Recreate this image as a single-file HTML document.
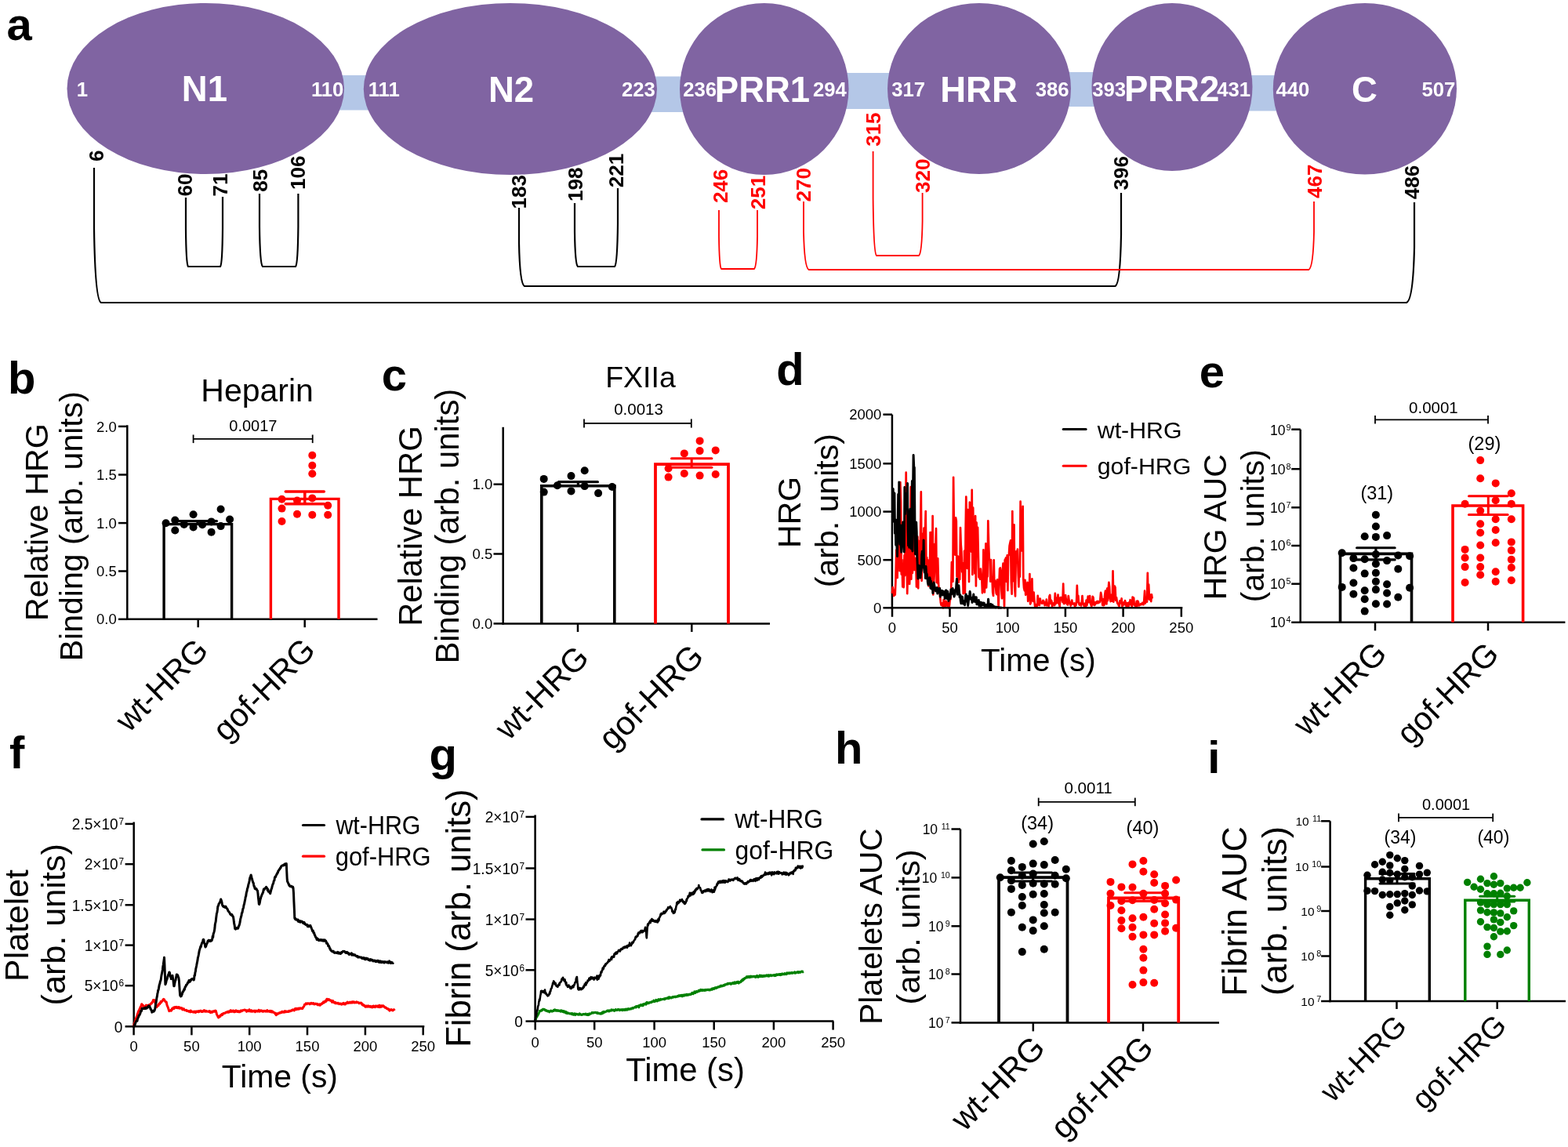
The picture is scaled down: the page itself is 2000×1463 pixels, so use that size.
<!DOCTYPE html>
<html><head><meta charset="utf-8"><title>HRG figure</title>
<style>html,body{margin:0;padding:0;background:#fff;} svg{display:block;} text{font-family:'Liberation Sans', Arial, Helvetica, sans-serif;}</style>
</head><body>
<svg width="2000" height="1463" viewBox="0 0 2000 1463">
<rect width="2000" height="1463" fill="#fff"/>
<text x="8.4" y="50.8" font-size="58" font-weight="bold">a</text>
<rect x="420" y="96" width="60" height="44.5" fill="#B4C7E7"/>
<rect x="825" y="97.5" width="55" height="45.5" fill="#B4C7E7"/>
<rect x="1070" y="93" width="75" height="46" fill="#B4C7E7"/>
<rect x="1355" y="92" width="50" height="44" fill="#B4C7E7"/>
<rect x="1585" y="96" width="50" height="45.5" fill="#B4C7E7"/>
<ellipse cx="262.25" cy="113" rx="176.75" ry="109" fill="#8064A2"/>
<ellipse cx="650.9" cy="113.5" rx="187.1" ry="109.5" fill="#8064A2"/>
<ellipse cx="974.75" cy="113.5" rx="107.75" ry="109.5" fill="#8064A2"/>
<ellipse cx="1249" cy="113" rx="117" ry="109" fill="#8064A2"/>
<ellipse cx="1495" cy="111" rx="102.5" ry="107" fill="#8064A2"/>
<ellipse cx="1740.9" cy="113.25" rx="117.1" ry="109.25" fill="#8064A2"/>
<text x="231.8" y="129.2" font-size="45.5" font-weight="bold" fill="#fff">N1</text>
<text x="623.0" y="130.2" font-size="45.5" font-weight="bold" fill="#fff">N2</text>
<text x="911.8" y="130.1" font-size="45.5" font-weight="bold" fill="#fff">PRR1</text>
<text x="1199.2" y="129.5" font-size="45.5" font-weight="bold" fill="#fff">HRR</text>
<text x="1433.9" y="128.8" font-size="45.5" font-weight="bold" fill="#fff">PRR2</text>
<text x="1724.0" y="130.0" font-size="45.5" font-weight="bold" fill="#fff">C</text>
<text x="97.8" y="122.7" font-size="25.7" font-weight="bold" fill="#fff">1</text>
<text x="396.9" y="122.7" font-size="25.7" font-weight="bold" fill="#fff">110</text>
<text x="469.7" y="122.7" font-size="25.7" font-weight="bold" fill="#fff">111</text>
<text x="793.0" y="122.7" font-size="25.7" font-weight="bold" fill="#fff">223</text>
<text x="871.2" y="122.7" font-size="25.7" font-weight="bold" fill="#fff">236</text>
<text x="1037.0" y="122.7" font-size="25.7" font-weight="bold" fill="#fff">294</text>
<text x="1137.3" y="122.7" font-size="25.7" font-weight="bold" fill="#fff">317</text>
<text x="1320.7" y="122.7" font-size="25.7" font-weight="bold" fill="#fff">386</text>
<text x="1393.2" y="122.7" font-size="25.7" font-weight="bold" fill="#fff">393</text>
<text x="1552.2" y="122.7" font-size="25.7" font-weight="bold" fill="#fff">431</text>
<text x="1627.5" y="122.7" font-size="25.7" font-weight="bold" fill="#fff">440</text>
<text x="1813.5" y="122.7" font-size="25.7" font-weight="bold" fill="#fff">507</text>
<text transform="translate(132.3,206.1) rotate(-90)" font-size="26" font-weight="bold">6</text>
<text transform="translate(245.1,250.4) rotate(-90)" font-size="26" font-weight="bold">60</text>
<text transform="translate(290.1,250.5) rotate(-90)" font-size="26" font-weight="bold">71</text>
<text transform="translate(340.6,244.7) rotate(-90)" font-size="26" font-weight="bold">85</text>
<text transform="translate(389.1,241.9) rotate(-90)" font-size="26" font-weight="bold">106</text>
<text transform="translate(671.3,266.4) rotate(-90)" font-size="26" font-weight="bold">183</text>
<text transform="translate(742.6,257.0) rotate(-90)" font-size="26" font-weight="bold">198</text>
<text transform="translate(794.8,239.2) rotate(-90)" font-size="26" font-weight="bold">221</text>
<text transform="translate(927.6,259.1) rotate(-90)" font-size="26" font-weight="bold" fill="#FF0000">246</text>
<text transform="translate(975.6,267.2) rotate(-90)" font-size="26" font-weight="bold" fill="#FF0000">251</text>
<text transform="translate(1034.2,257.4) rotate(-90)" font-size="26" font-weight="bold" fill="#FF0000">270</text>
<text transform="translate(1122.5,186.8) rotate(-90)" font-size="26" font-weight="bold" fill="#FF0000">315</text>
<text transform="translate(1185.8,245.9) rotate(-90)" font-size="26" font-weight="bold" fill="#FF0000">320</text>
<text transform="translate(1438.5,242.4) rotate(-90)" font-size="26" font-weight="bold">396</text>
<text transform="translate(1685.6,252.9) rotate(-90)" font-size="26" font-weight="bold" fill="#FF0000">467</text>
<text transform="translate(1809.6,254.2) rotate(-90)" font-size="26" font-weight="bold">486</text>
<path d="M120,214 L120,291.4 Q121.3,383.0 129,386 L1794,386 Q1802.5,383.0 1804,315.6 L1804,258" fill="none" stroke="#000" stroke-width="2.2" stroke-linejoin="round"/>
<path d="M237,252 L237,291.6 Q237.4,337.0 240,340 L281,340 Q283.6,337.0 284,291.1 L284,251" fill="none" stroke="#000" stroke-width="2.2" stroke-linejoin="round"/>
<path d="M331,247 L331,288.9 Q331.6,337.0 335,340 L377,340 Q379.9,337.0 380.4,288.9 L380.4,247" fill="none" stroke="#000" stroke-width="2.2" stroke-linejoin="round"/>
<path d="M662,265 L662,310.0 Q663.0,362.0 669,365 L1422.6,365 Q1428.9,362.0 1430,299.6 L1430,246" fill="none" stroke="#000" stroke-width="2.2" stroke-linejoin="round"/>
<path d="M733,259 L733,295.4 Q733.6,337.0 737,340 L784,340 Q787.4,337.0 788,285.0 L788,240" fill="none" stroke="#000" stroke-width="2.2" stroke-linejoin="round"/>
<path d="M917,268 L917,301.8 Q917.5,340.0 920,343 L962,343 Q965.4,340.0 966,301.8 L966,268" fill="none" stroke="#FF0000" stroke-width="1.8" stroke-linejoin="round"/>
<path d="M1025,257 L1025,296.1 Q1026.0,341.0 1031.5,344 L1669.4,344 Q1675.0,341.0 1676,296.1 L1676,257" fill="none" stroke="#FF0000" stroke-width="1.8" stroke-linejoin="round"/>
<path d="M1113.6,193 L1113.6,252.8 Q1114.3,323.0 1118,326 L1172,326 Q1175.9,323.0 1176.6,282.0 L1176.6,246" fill="none" stroke="#FF0000" stroke-width="1.8" stroke-linejoin="round"/>
<text x="10.0" y="501.9" font-size="58" font-weight="bold">b</text>
<text x="256.3" y="511.8" font-size="41">Heparin</text>
<text transform="translate(60.6,666.2) rotate(-90)" font-size="41.2" text-anchor="middle">Relative HRG</text>
<text transform="translate(104.5,671.2) rotate(-90)" font-size="41.0" text-anchor="middle">Binding (arb. units)</text>
<line x1="162.3" y1="542.3" x2="162.3" y2="791.0" stroke="#000" stroke-width="2.5" stroke-linecap="butt"/>
<line x1="151.0" y1="543.9" x2="162.3" y2="543.9" stroke="#000" stroke-width="2.5" stroke-linecap="butt"/>
<text x="148.7" y="550.5" font-size="18.5" text-anchor="end">2.0</text>
<line x1="151.0" y1="605.5" x2="162.3" y2="605.5" stroke="#000" stroke-width="2.5" stroke-linecap="butt"/>
<text x="148.7" y="612.1" font-size="18.5" text-anchor="end">1.5</text>
<line x1="151.0" y1="667.1" x2="162.3" y2="667.1" stroke="#000" stroke-width="2.5" stroke-linecap="butt"/>
<text x="148.7" y="673.7" font-size="18.5" text-anchor="end">1.0</text>
<line x1="151.0" y1="728.5" x2="162.3" y2="728.5" stroke="#000" stroke-width="2.5" stroke-linecap="butt"/>
<text x="148.7" y="735.1" font-size="18.5" text-anchor="end">0.5</text>
<line x1="151.0" y1="789.8" x2="162.3" y2="789.8" stroke="#000" stroke-width="2.5" stroke-linecap="butt"/>
<text x="148.7" y="796.4" font-size="18.5" text-anchor="end">0.0</text>
<line x1="161.1" y1="789.8" x2="481.5" y2="789.8" stroke="#000" stroke-width="2.5" stroke-linecap="butt"/>
<line x1="252.7" y1="789.8" x2="252.7" y2="800.2" stroke="#000" stroke-width="2.5" stroke-linecap="butt"/>
<line x1="388.7" y1="789.8" x2="388.7" y2="800.2" stroke="#000" stroke-width="2.5" stroke-linecap="butt"/>
<path d="M209.1,789.8 L209.1,668.6 L295.6,668.6 L295.6,789.8" fill="none" stroke="#000" stroke-width="3.4" stroke-linejoin="miter"/>
<path d="M345.4,789.8 L345.4,636.4 L432,636.4 L432,789.8" fill="none" stroke="#FF0000" stroke-width="3.4" stroke-linejoin="miter"/>
<g fill="#000"><circle cx="211.6" cy="667.3" r="5"/><circle cx="223.3" cy="663.5" r="5"/><circle cx="223.3" cy="676.5" r="5"/><circle cx="234.8" cy="668.9" r="5"/><circle cx="246.6" cy="656.2" r="5"/><circle cx="246.6" cy="672.5" r="5"/><circle cx="258.1" cy="669.2" r="5"/><circle cx="269.6" cy="665.4" r="5"/><circle cx="269.6" cy="678.8" r="5"/><circle cx="281.6" cy="649.5" r="5"/><circle cx="281.6" cy="671.1" r="5"/><circle cx="293.1" cy="662.5" r="5"/></g>
<line x1="227.8" y1="664.6" x2="276.4" y2="664.6" stroke="#000" stroke-width="3.4" stroke-linecap="round"/>
<line x1="252.1" y1="664.6" x2="252.1" y2="668.6" stroke="#000" stroke-width="3.4" stroke-linecap="butt"/>
<g fill="#FF0000"><circle cx="398.3" cy="580.8" r="5"/><circle cx="398.3" cy="593.7" r="5"/><circle cx="398.3" cy="604.2" r="5"/><circle cx="359.5" cy="636.7" r="5"/><circle cx="359.5" cy="648.6" r="5"/><circle cx="359.5" cy="665.0" r="5"/><circle cx="379.0" cy="638.6" r="5"/><circle cx="379.0" cy="655.8" r="5"/><circle cx="398.3" cy="635.4" r="5"/><circle cx="398.3" cy="656.8" r="5"/><circle cx="418.2" cy="644.7" r="5"/><circle cx="418.2" cy="656.8" r="5"/></g>
<line x1="364.3" y1="627.0" x2="413.3" y2="627.0" stroke="#FF0000" stroke-width="3.6" stroke-linecap="round"/>
<line x1="364.3" y1="642.8" x2="413.3" y2="642.8" stroke="#FF0000" stroke-width="3.6" stroke-linecap="round"/>
<line x1="388.8" y1="627.0" x2="388.8" y2="642.8" stroke="#FF0000" stroke-width="3.6" stroke-linecap="butt"/>
<line x1="246.6" y1="559.8" x2="398.7" y2="559.8" stroke="#000" stroke-width="1.8" stroke-linecap="butt"/>
<line x1="246.6" y1="554.5" x2="246.6" y2="565.1" stroke="#000" stroke-width="1.8" stroke-linecap="butt"/>
<line x1="398.7" y1="554.5" x2="398.7" y2="565.1" stroke="#000" stroke-width="1.8" stroke-linecap="butt"/>
<text x="322.9" y="549.7" font-size="20" text-anchor="middle">0.0017</text>
<text transform="translate(268.0,831.8) rotate(-45)" font-size="41.2" text-anchor="end">wt-HRG</text>
<text transform="translate(404.5,831.4) rotate(-45)" font-size="41.6" text-anchor="end">gof-HRG</text>
<text x="486.8" y="497.5" font-size="58" font-weight="bold">c</text>
<text x="772.2" y="493.5" font-size="37.5">FXIIa</text>
<text transform="translate(538.2,671.1) rotate(-90)" font-size="41.8" text-anchor="middle">Relative HRG</text>
<text transform="translate(585.0,671.2) rotate(-90)" font-size="41.8" text-anchor="middle">Binding (arb. units)</text>
<line x1="641.7" y1="544.8" x2="641.7" y2="796.6" stroke="#000" stroke-width="2.5" stroke-linecap="butt"/>
<line x1="629.5" y1="617.7" x2="641.7" y2="617.7" stroke="#000" stroke-width="2.5" stroke-linecap="butt"/>
<text x="628.2" y="624.3" font-size="18.5" text-anchor="end">1.0</text>
<line x1="629.5" y1="706.5" x2="641.7" y2="706.5" stroke="#000" stroke-width="2.5" stroke-linecap="butt"/>
<text x="628.2" y="713.1" font-size="18.5" text-anchor="end">0.5</text>
<line x1="629.5" y1="795.4" x2="641.7" y2="795.4" stroke="#000" stroke-width="2.5" stroke-linecap="butt"/>
<text x="628.2" y="802.0" font-size="18.5" text-anchor="end">0.0</text>
<line x1="640.5" y1="795.4" x2="982.0" y2="795.4" stroke="#000" stroke-width="2.5" stroke-linecap="butt"/>
<line x1="737.0" y1="795.4" x2="737.0" y2="806.0" stroke="#000" stroke-width="2.5" stroke-linecap="butt"/>
<line x1="882.3" y1="795.4" x2="882.3" y2="806.0" stroke="#000" stroke-width="2.5" stroke-linecap="butt"/>
<path d="M690.8,795.4 L690.8,619.8 L783.8,619.8 L783.8,795.4" fill="none" stroke="#000" stroke-width="3.6" stroke-linejoin="miter"/>
<path d="M836,795.4 L836,592.2 L929,592.2 L929,795.4" fill="none" stroke="#FF0000" stroke-width="3.8" stroke-linejoin="miter"/>
<g fill="#000"><circle cx="693.7" cy="610.9" r="5"/><circle cx="728.5" cy="607.1" r="5"/><circle cx="745.7" cy="600.3" r="5"/><circle cx="710.9" cy="619.2" r="5"/><circle cx="745.7" cy="620.1" r="5"/><circle cx="780.8" cy="621.0" r="5"/><circle cx="693.7" cy="627.6" r="5"/><circle cx="728.5" cy="626.4" r="5"/><circle cx="763.1" cy="629.1" r="5"/></g>
<line x1="712.4" y1="614.7" x2="762.4" y2="614.7" stroke="#000" stroke-width="3.2" stroke-linecap="round"/>
<line x1="737.4" y1="614.7" x2="737.4" y2="619.8" stroke="#000" stroke-width="3.2" stroke-linecap="butt"/>
<g fill="#FF0000"><circle cx="892.6" cy="562.4" r="5"/><circle cx="892.6" cy="575.1" r="5"/><circle cx="912.7" cy="574.4" r="5"/><circle cx="872.8" cy="578.4" r="5"/><circle cx="852.6" cy="597.5" r="5"/><circle cx="852.6" cy="608.6" r="5"/><circle cx="872.8" cy="604.0" r="5"/><circle cx="892.6" cy="606.6" r="5"/><circle cx="912.7" cy="605.0" r="5"/></g>
<line x1="856.5" y1="584.8" x2="907.9" y2="584.8" stroke="#FF0000" stroke-width="3" stroke-linecap="round"/>
<line x1="856.5" y1="596.2" x2="907.9" y2="596.2" stroke="#FF0000" stroke-width="3" stroke-linecap="round"/>
<line x1="882.2" y1="584.8" x2="882.2" y2="596.2" stroke="#FF0000" stroke-width="3" stroke-linecap="butt"/>
<line x1="745.0" y1="540.0" x2="881.8" y2="540.0" stroke="#000" stroke-width="1.8" stroke-linecap="butt"/>
<line x1="745.0" y1="534.4" x2="745.0" y2="545.6" stroke="#000" stroke-width="1.8" stroke-linecap="butt"/>
<line x1="881.8" y1="534.4" x2="881.8" y2="545.6" stroke="#000" stroke-width="1.8" stroke-linecap="butt"/>
<text x="814.5" y="529.3" font-size="20.5" text-anchor="middle">0.0013</text>
<text transform="translate(753.4,841.0) rotate(-45)" font-size="41.6" text-anchor="end">wt-HRG</text>
<text transform="translate(899.9,839.8) rotate(-45)" font-size="42.6" text-anchor="end">gof-HRG</text>
<text x="990.3" y="490.9" font-size="58" font-weight="bold">d</text>
<text transform="translate(1020.5,653.4) rotate(-90)" font-size="41" text-anchor="middle">HRG</text>
<text transform="translate(1068.9,651.2) rotate(-90)" font-size="41.0" text-anchor="middle">(arb. units)</text>
<line x1="1137.9" y1="528.7" x2="1137.9" y2="776.5" stroke="#000" stroke-width="2.5" stroke-linecap="butt"/>
<line x1="1126.4" y1="528.7" x2="1137.9" y2="528.7" stroke="#000" stroke-width="2.5" stroke-linecap="butt"/>
<text x="1124.4" y="535.3" font-size="18.5" text-anchor="end">2000</text>
<line x1="1126.4" y1="591.3" x2="1137.9" y2="591.3" stroke="#000" stroke-width="2.5" stroke-linecap="butt"/>
<text x="1124.4" y="597.9" font-size="18.5" text-anchor="end">1500</text>
<line x1="1126.4" y1="652.6" x2="1137.9" y2="652.6" stroke="#000" stroke-width="2.5" stroke-linecap="butt"/>
<text x="1124.4" y="659.2" font-size="18.5" text-anchor="end">1000</text>
<line x1="1126.4" y1="714.2" x2="1137.9" y2="714.2" stroke="#000" stroke-width="2.5" stroke-linecap="butt"/>
<text x="1124.4" y="720.8" font-size="18.5" text-anchor="end">500</text>
<line x1="1126.4" y1="775.3" x2="1137.9" y2="775.3" stroke="#000" stroke-width="2.5" stroke-linecap="butt"/>
<text x="1124.4" y="781.9" font-size="18.5" text-anchor="end">0</text>
<path d="M1138.0,756.8 L1138.7,749.2 L1139.5,753.8 L1140.2,760.0 L1140.9,754.8 L1141.7,758.7 L1142.4,742.0 L1143.2,701.6 L1143.9,731.0 L1144.6,737.0 L1145.4,692.8 L1146.1,679.4 L1146.8,684.8 L1147.6,728.2 L1148.3,615.0 L1149.1,639.7 L1149.8,732.6 L1150.5,714.2 L1151.3,748.5 L1152.0,740.8 L1152.7,749.2 L1153.5,708.3 L1154.2,734.1 L1155.0,677.2 L1155.7,602.7 L1156.4,689.7 L1157.2,757.1 L1157.9,729.5 L1158.6,702.1 L1159.4,688.7 L1160.1,744.9 L1160.8,728.5 L1161.6,621.2 L1162.3,738.7 L1163.1,666.2 L1163.8,730.9 L1164.5,716.3 L1165.3,671.7 L1166.0,727.0 L1166.7,720.8 L1167.5,712.1 L1168.2,713.1 L1169.0,748.5 L1169.7,724.3 L1170.4,684.7 L1171.2,750.3 L1171.9,690.2 L1172.6,706.3 L1173.4,733.9 L1174.1,675.4 L1174.8,627.3 L1175.6,740.8 L1176.3,714.8 L1177.1,680.6 L1177.8,710.8 L1178.5,673.7 L1179.3,707.5 L1180.0,677.3 L1180.7,652.0 L1181.5,727.1 L1182.2,711.0 L1183.0,730.5 L1183.7,714.6 L1184.4,747.4 L1185.2,740.1 L1185.9,728.2 L1186.6,679.1 L1187.4,679.1 L1188.1,745.2 L1188.9,744.2 L1189.6,658.2 L1190.3,758.5 L1191.1,743.6 L1191.8,731.6 L1192.5,693.9 L1193.3,697.6 L1194.0,674.2 L1194.7,742.8 L1195.5,743.3 L1196.2,712.4 L1197.0,743.7 L1197.7,752.8 L1198.4,750.1 L1199.2,761.7 L1199.9,768.8 L1200.6,771.9 L1201.4,769.5 L1202.1,770.6 L1202.9,775.3 L1203.6,765.1 L1204.3,769.2 L1205.1,767.1 L1205.8,774.7 L1206.5,766.5 L1207.3,770.4 L1208.0,769.3 L1208.8,773.5 L1209.5,767.6 L1210.2,775.3 L1211.0,772.2 L1211.7,764.5 L1212.4,764.5 L1213.2,751.4 L1213.9,717.0 L1214.6,741.5 L1215.4,741.8 L1216.1,608.8 L1216.9,677.4 L1217.6,698.9 L1218.3,707.7 L1219.1,660.4 L1219.8,664.4 L1220.5,735.4 L1221.3,717.2 L1222.0,709.7 L1222.8,742.7 L1223.5,711.7 L1224.2,739.0 L1225.0,673.1 L1225.7,695.2 L1226.4,703.6 L1227.2,729.4 L1227.9,718.1 L1228.7,757.1 L1229.4,749.9 L1230.1,702.7 L1230.9,756.5 L1231.6,677.4 L1232.3,633.5 L1233.1,671.3 L1233.8,725.0 L1234.5,650.0 L1235.3,673.7 L1236.0,742.1 L1236.8,640.7 L1237.5,641.9 L1238.2,677.0 L1239.0,703.7 L1239.7,624.9 L1240.4,733.0 L1241.2,647.7 L1241.9,713.4 L1242.7,705.1 L1243.4,731.5 L1244.1,658.2 L1244.9,747.4 L1245.6,666.5 L1246.3,708.1 L1247.1,672.8 L1247.8,705.3 L1248.5,736.3 L1249.3,732.5 L1250.0,738.7 L1250.8,725.7 L1251.5,735.2 L1252.2,736.1 L1253.0,756.3 L1253.7,752.3 L1254.4,701.3 L1255.2,742.0 L1255.9,755.5 L1256.7,726.8 L1257.4,693.3 L1258.1,749.5 L1258.9,731.0 L1259.6,735.3 L1260.3,664.3 L1261.1,694.7 L1261.8,712.6 L1262.6,714.9 L1263.3,741.6 L1264.0,714.0 L1264.8,740.8 L1265.5,737.4 L1266.2,755.5 L1267.0,760.0 L1267.7,714.3 L1268.4,748.0 L1269.2,740.3 L1269.9,747.6 L1270.7,756.7 L1271.4,758.0 L1272.1,739.4 L1272.9,752.0 L1273.6,775.3 L1274.3,747.8 L1275.1,725.4 L1275.8,724.4 L1276.6,732.9 L1277.3,752.6 L1278.0,763.2 L1278.8,727.0 L1279.5,718.7 L1280.2,739.8 L1281.0,775.3 L1281.7,714.3 L1282.5,712.8 L1283.2,711.3 L1283.9,741.9 L1284.7,708.3 L1285.4,753.1 L1286.1,709.3 L1286.9,707.6 L1287.6,696.3 L1288.3,692.8 L1289.1,689.3 L1289.8,741.7 L1290.6,757.7 L1291.3,652.0 L1292.0,741.1 L1292.8,718.8 L1293.5,669.3 L1294.2,749.2 L1295.0,760.4 L1295.7,714.1 L1296.5,703.2 L1297.2,712.3 L1297.9,700.5 L1298.7,730.9 L1299.4,748.5 L1300.1,717.2 L1300.9,735.6 L1301.6,639.7 L1302.4,692.7 L1303.1,702.5 L1303.8,681.2 L1304.6,645.8 L1305.3,738.6 L1306.0,749.7 L1306.8,753.3 L1307.5,739.8 L1308.2,758.8 L1309.0,754.3 L1309.7,752.9 L1310.5,742.9 L1311.2,766.8 L1311.9,752.3 L1312.7,761.0 L1313.4,732.1 L1314.1,770.5 L1314.9,768.4 L1315.6,759.5 L1316.4,738.3 L1317.1,764.4 L1317.8,766.9 L1318.6,755.7 L1319.3,764.6 L1320.0,773.0 L1320.8,771.0 L1321.5,773.2 L1322.2,774.5 L1323.0,771.7 L1323.7,759.8 L1324.5,766.4 L1325.2,771.8 L1325.9,772.0 L1326.7,763.5 L1327.4,767.4 L1328.1,768.7 L1328.9,769.6 L1329.6,769.6 L1330.4,765.9 L1331.1,766.4 L1331.8,768.2 L1332.6,772.2 L1333.3,768.3 L1334.0,771.4 L1334.8,764.6 L1335.5,772.4 L1336.3,770.6 L1337.0,769.7 L1337.7,772.8 L1338.5,760.3 L1339.2,759.0 L1339.9,769.7 L1340.7,765.6 L1341.4,766.8 L1342.1,774.1 L1342.9,770.1 L1343.6,769.6 L1344.4,768.9 L1345.1,772.2 L1345.8,756.8 L1346.6,770.1 L1347.3,762.6 L1348.0,766.5 L1348.8,768.7 L1349.5,758.7 L1350.3,770.0 L1351.0,770.6 L1351.7,773.5 L1352.5,762.1 L1353.2,762.0 L1353.9,762.4 L1354.7,764.4 L1355.4,767.9 L1356.2,744.5 L1356.9,769.9 L1357.6,770.0 L1358.4,769.1 L1359.1,759.1 L1359.8,764.7 L1360.6,768.7 L1361.3,771.0 L1362.0,771.5 L1362.8,760.1 L1363.5,765.4 L1364.3,768.4 L1365.0,770.4 L1365.7,772.5 L1366.5,770.5 L1367.2,765.5 L1367.9,770.3 L1368.7,770.5 L1369.4,770.5 L1370.2,769.4 L1370.9,773.2 L1371.6,771.3 L1372.4,772.3 L1373.1,766.6 L1373.8,746.9 L1374.6,767.9 L1375.3,759.9 L1376.1,769.8 L1376.8,771.6 L1377.5,769.7 L1378.3,769.9 L1379.0,772.5 L1379.7,769.0 L1380.5,760.0 L1381.2,769.5 L1381.9,770.6 L1382.7,772.7 L1383.4,769.8 L1384.2,773.0 L1384.9,773.2 L1385.6,765.7 L1386.4,772.1 L1387.1,766.2 L1387.8,760.5 L1388.6,768.1 L1389.3,767.5 L1390.1,760.1 L1390.8,769.2 L1391.5,771.5 L1392.3,773.1 L1393.0,770.5 L1393.7,760.9 L1394.5,762.2 L1395.2,771.4 L1396.0,772.0 L1396.7,771.3 L1397.4,768.2 L1398.2,769.5 L1398.9,767.8 L1399.6,766.9 L1400.4,769.3 L1401.1,768.6 L1401.8,767.2 L1402.6,768.2 L1403.3,765.2 L1404.1,755.9 L1404.8,759.1 L1405.5,764.4 L1406.3,771.8 L1407.0,764.4 L1407.7,772.1 L1408.5,771.6 L1409.2,758.4 L1410.0,753.7 L1410.7,761.6 L1411.4,770.5 L1412.2,750.6 L1412.9,766.2 L1413.6,753.6 L1414.4,742.9 L1415.1,748.5 L1415.8,763.4 L1416.6,767.2 L1417.3,759.7 L1418.1,758.4 L1418.8,766.7 L1419.5,728.4 L1420.3,767.7 L1421.0,749.4 L1421.7,747.6 L1422.5,749.4 L1423.2,765.6 L1424.0,762.0 L1424.7,766.9 L1425.4,769.6 L1426.2,769.8 L1426.9,772.4 L1427.6,773.0 L1428.4,766.4 L1429.1,769.2 L1429.9,768.2 L1430.6,763.4 L1431.3,773.1 L1432.1,772.4 L1432.8,769.9 L1433.5,768.4 L1434.3,771.0 L1435.0,766.0 L1435.7,769.1 L1436.5,773.1 L1437.2,773.2 L1438.0,769.2 L1438.7,769.4 L1439.4,774.1 L1440.2,768.3 L1440.9,769.0 L1441.6,765.2 L1442.4,771.5 L1443.1,772.0 L1443.9,773.4 L1444.6,761.5 L1445.3,770.1 L1446.1,762.6 L1446.8,771.6 L1447.5,770.4 L1448.3,773.7 L1449.0,772.2 L1449.8,766.9 L1450.5,772.8 L1451.2,766.5 L1452.0,768.1 L1452.7,772.4 L1453.4,771.8 L1454.2,771.6 L1454.9,770.3 L1455.6,770.7 L1456.4,771.1 L1457.1,769.0 L1457.9,770.5 L1458.6,771.2 L1459.3,765.8 L1460.1,753.7 L1460.8,769.5 L1461.5,762.7 L1462.3,765.1 L1463.0,767.6 L1463.8,730.9 L1464.5,763.5 L1465.2,745.7 L1466.0,764.7 L1466.7,758.3 L1467.4,762.9 L1468.2,767.1 L1468.9,758.3 L1469.7,763.5" fill="none" stroke="#FF0000" stroke-width="2.7" stroke-linejoin="round"/>
<path d="M1138.0,658.2 L1138.6,659.4 L1139.2,623.6 L1139.8,665.2 L1140.4,657.8 L1140.9,628.9 L1141.5,680.3 L1142.1,669.4 L1142.7,695.2 L1143.3,663.3 L1143.9,697.5 L1144.5,709.6 L1145.1,675.4 L1145.7,630.4 L1146.3,689.2 L1146.8,615.0 L1147.4,682.1 L1148.0,694.5 L1148.6,669.7 L1149.2,697.1 L1149.8,704.3 L1150.4,673.8 L1151.0,693.3 L1151.6,666.1 L1152.2,689.7 L1152.7,694.2 L1153.3,703.9 L1153.9,621.4 L1154.5,655.7 L1155.1,642.6 L1155.7,629.8 L1156.3,643.5 L1156.9,648.6 L1157.5,616.6 L1158.0,674.9 L1158.6,695.9 L1159.2,690.7 L1159.8,698.3 L1160.4,655.7 L1161.0,649.2 L1161.6,693.9 L1162.2,699.9 L1162.8,674.1 L1163.4,613.4 L1163.9,703.0 L1164.5,629.0 L1165.1,580.5 L1165.7,595.2 L1166.3,596.5 L1166.9,668.1 L1167.5,706.8 L1168.1,706.5 L1168.7,666.3 L1169.2,678.8 L1169.8,710.2 L1170.4,725.4 L1171.0,738.1 L1171.6,726.2 L1172.2,721.3 L1172.8,722.8 L1173.4,724.8 L1174.0,737.1 L1174.6,730.0 L1175.1,727.7 L1175.7,707.7 L1176.3,703.2 L1176.9,713.6 L1177.5,724.0 L1178.1,689.0 L1178.7,725.0 L1179.3,730.2 L1179.9,724.6 L1180.5,737.6 L1181.0,722.5 L1181.6,731.9 L1182.2,731.9 L1182.8,736.7 L1183.4,742.9 L1184.0,745.9 L1184.6,740.8 L1185.2,743.2 L1185.8,736.7 L1186.3,738.6 L1186.9,750.2 L1187.5,741.2 L1188.1,751.1 L1188.7,747.8 L1189.3,745.2 L1189.9,756.6 L1190.5,745.1 L1191.1,743.0 L1191.7,745.9 L1192.2,748.9 L1192.8,749.5 L1193.4,753.9 L1194.0,750.8 L1194.6,752.7 L1195.2,749.5 L1195.8,757.1 L1196.4,750.7 L1197.0,750.9 L1197.5,753.1 L1198.1,755.4 L1198.7,750.4 L1199.3,761.2 L1199.9,753.1 L1200.5,753.3 L1201.1,753.5 L1201.7,753.5 L1202.3,759.0 L1202.9,758.4 L1203.4,754.3 L1204.0,755.2 L1204.6,756.7 L1205.2,763.6 L1205.8,756.5 L1206.4,752.9 L1207.0,752.9 L1207.6,756.0 L1208.2,763.7 L1208.8,754.4 L1209.3,758.2 L1209.9,766.5 L1210.5,758.1 L1211.1,763.7 L1211.7,763.8 L1212.3,761.3 L1212.9,752.1 L1213.5,758.1 L1214.1,755.6 L1214.6,750.9 L1215.2,750.6 L1215.8,755.0 L1216.4,756.8 L1217.0,761.1 L1217.6,759.3 L1218.2,753.1 L1218.8,751.9 L1219.4,752.9 L1220.0,743.0 L1220.5,738.3 L1221.1,758.2 L1221.7,750.6 L1222.3,751.8 L1222.9,746.8 L1223.5,754.8 L1224.1,761.8 L1224.7,758.6 L1225.3,766.6 L1225.9,769.7 L1226.4,761.0 L1227.0,763.2 L1227.6,761.4 L1228.2,769.9 L1228.8,766.5 L1229.4,767.0 L1230.0,768.1 L1230.6,771.7 L1231.2,767.3 L1231.7,759.3 L1232.3,758.0 L1232.9,767.0 L1233.5,765.2 L1234.1,760.5 L1234.7,772.4 L1235.3,767.5 L1235.9,763.1 L1236.5,761.6 L1237.1,754.6 L1237.6,757.3 L1238.2,763.8 L1238.8,764.7 L1239.4,762.4 L1240.0,768.4 L1240.6,767.5 L1241.2,763.1 L1241.8,758.1 L1242.4,767.1 L1242.9,761.7 L1243.5,767.4 L1244.1,761.8 L1244.7,767.9 L1245.3,761.8 L1245.9,770.8 L1246.5,769.9 L1247.1,769.9 L1247.7,766.9 L1248.3,765.5 L1248.8,772.4 L1249.4,772.2 L1250.0,767.9 L1250.6,771.6 L1251.2,773.1 L1251.8,768.5 L1252.4,769.3 L1253.0,769.6 L1253.6,771.9 L1254.2,769.0 L1254.7,771.7 L1255.3,769.2 L1255.9,772.9 L1256.5,773.2 L1257.1,772.0 L1257.7,773.0 L1258.3,771.3 L1258.9,771.8 L1259.5,773.4 L1260.0,772.6 L1260.6,764.2 L1261.2,771.4 L1261.8,773.4 L1262.4,773.4 L1263.0,771.4 L1263.6,770.5 L1264.2,770.7 L1264.8,772.9 L1265.4,773.2 L1265.9,771.5 L1266.5,773.5 L1267.1,774.3 L1267.7,773.8 L1268.3,773.6 L1268.9,774.4 L1269.5,774.8 L1270.1,774.8 L1270.7,774.1 L1271.2,774.6 L1271.8,774.6 L1272.4,774.5 L1273.0,774.4 L1273.6,774.8 L1274.2,774.7 L1274.8,775.0 L1275.4,775.0 L1276.0,775.1 L1276.6,775.0 L1277.1,775.2 L1277.7,775.3" fill="none" stroke="#000" stroke-width="3.0" stroke-linejoin="round"/>
<line x1="1136.7" y1="775.3" x2="1508.3" y2="775.3" stroke="#000" stroke-width="2.5" stroke-linecap="butt"/>
<line x1="1138.0" y1="775.3" x2="1138.0" y2="786.8" stroke="#000" stroke-width="2.5" stroke-linecap="butt"/>
<text x="1138.0" y="806.8" font-size="18.5" text-anchor="middle">0</text>
<line x1="1211.5" y1="775.3" x2="1211.5" y2="786.8" stroke="#000" stroke-width="2.5" stroke-linecap="butt"/>
<text x="1211.5" y="806.8" font-size="18.5" text-anchor="middle">50</text>
<line x1="1285.2" y1="775.3" x2="1285.2" y2="786.8" stroke="#000" stroke-width="2.5" stroke-linecap="butt"/>
<text x="1285.2" y="806.8" font-size="18.5" text-anchor="middle">100</text>
<line x1="1358.9" y1="775.3" x2="1358.9" y2="786.8" stroke="#000" stroke-width="2.5" stroke-linecap="butt"/>
<text x="1358.9" y="806.8" font-size="18.5" text-anchor="middle">150</text>
<line x1="1432.6" y1="775.3" x2="1432.6" y2="786.8" stroke="#000" stroke-width="2.5" stroke-linecap="butt"/>
<text x="1432.6" y="806.8" font-size="18.5" text-anchor="middle">200</text>
<line x1="1506.8" y1="775.3" x2="1506.8" y2="786.8" stroke="#000" stroke-width="2.5" stroke-linecap="butt"/>
<text x="1506.8" y="806.8" font-size="18.5" text-anchor="middle">250</text>
<text x="1324.4" y="856.4" font-size="40.4" text-anchor="middle">Time (s)</text>
<line x1="1356.2" y1="547.6" x2="1385.1" y2="547.6" stroke="#000" stroke-width="3" stroke-linecap="round"/>
<text x="1399.8" y="558.5" font-size="30.3">wt-HRG</text>
<line x1="1356.2" y1="594.3" x2="1385.1" y2="594.3" stroke="#FF0000" stroke-width="3" stroke-linecap="round"/>
<text x="1399.7" y="604.9" font-size="30.3">gof-HRG</text>
<text x="1529.7" y="493.7" font-size="58" font-weight="bold">e</text>
<text transform="translate(1564.3,672.3) rotate(-90)" font-size="40.8" text-anchor="middle">HRG AUC</text>
<text transform="translate(1611.9,670.7) rotate(-90)" font-size="40.8" text-anchor="middle">(arb. units)</text>
<line x1="1658.7" y1="547.7" x2="1658.7" y2="795.0" stroke="#000" stroke-width="2.5" stroke-linecap="butt"/>
<line x1="1647.2" y1="547.7" x2="1658.7" y2="547.7" stroke="#000" stroke-width="2.5" stroke-linecap="butt"/>
<line x1="1647.2" y1="598.2" x2="1658.7" y2="598.2" stroke="#000" stroke-width="2.5" stroke-linecap="butt"/>
<line x1="1647.2" y1="647.3" x2="1658.7" y2="647.3" stroke="#000" stroke-width="2.5" stroke-linecap="butt"/>
<line x1="1647.2" y1="696.0" x2="1658.7" y2="696.0" stroke="#000" stroke-width="2.5" stroke-linecap="butt"/>
<line x1="1647.2" y1="744.7" x2="1658.7" y2="744.7" stroke="#000" stroke-width="2.5" stroke-linecap="butt"/>
<line x1="1647.2" y1="793.8" x2="1658.7" y2="793.8" stroke="#000" stroke-width="2.5" stroke-linecap="butt"/>
<text x="1646.6" y="554.9" font-size="17.6" text-anchor="end">10<tspan font-size="10.8" dx="1.0" dy="-6.0">9</tspan></text>
<text x="1646.6" y="604.5" font-size="17.6" text-anchor="end">10<tspan font-size="10.8" dx="1.0" dy="-6.0">8</tspan></text>
<text x="1646.6" y="653.6" font-size="17.6" text-anchor="end">10<tspan font-size="10.8" dx="1.0" dy="-6.0">7</tspan></text>
<text x="1646.6" y="702.3" font-size="17.6" text-anchor="end">10<tspan font-size="10.8" dx="1.0" dy="-6.0">6</tspan></text>
<text x="1646.6" y="751.0" font-size="17.6" text-anchor="end">10<tspan font-size="10.8" dx="1.0" dy="-6.0">5</tspan></text>
<text x="1646.6" y="800.1" font-size="17.6" text-anchor="end">10<tspan font-size="10.8" dx="1.0" dy="-6.0">4</tspan></text>
<line x1="1657.5" y1="793.8" x2="1996.4" y2="793.8" stroke="#000" stroke-width="2.5" stroke-linecap="butt"/>
<line x1="1754.0" y1="793.8" x2="1754.0" y2="804.4" stroke="#000" stroke-width="2.5" stroke-linecap="butt"/>
<line x1="1898.0" y1="793.8" x2="1898.0" y2="804.4" stroke="#000" stroke-width="2.5" stroke-linecap="butt"/>
<path d="M1709.5,793.8 L1709.5,706.4 L1800.5,706.4 L1800.5,793.8" fill="none" stroke="#000" stroke-width="3.6" stroke-linejoin="miter"/>
<path d="M1853,793.8 L1853,645 L1942.6,645 L1942.6,793.8" fill="none" stroke="#FF0000" stroke-width="3.6" stroke-linejoin="miter"/>
<g fill="#000"><circle cx="1754.9" cy="656.8" r="5"/><circle cx="1754.9" cy="671.5" r="5"/><circle cx="1740.7" cy="684.3" r="5"/><circle cx="1754.9" cy="684.9" r="5"/><circle cx="1769.1" cy="683.1" r="5"/><circle cx="1711.7" cy="705.3" r="5"/><circle cx="1726.4" cy="712.1" r="5"/><circle cx="1740.7" cy="713.3" r="5"/><circle cx="1754.9" cy="707.1" r="5"/><circle cx="1769.1" cy="715.1" r="5"/><circle cx="1783.3" cy="708.5" r="5"/><circle cx="1798.1" cy="709.2" r="5"/><circle cx="1726.4" cy="724.5" r="5"/><circle cx="1754.9" cy="719.2" r="5"/><circle cx="1783.3" cy="725.7" r="5"/><circle cx="1740.7" cy="731.6" r="5"/><circle cx="1754.9" cy="730.7" r="5"/><circle cx="1726.4" cy="743.5" r="5"/><circle cx="1754.9" cy="741.7" r="5"/><circle cx="1769.1" cy="745.3" r="5"/><circle cx="1711.7" cy="748.9" r="5"/><circle cx="1798.1" cy="749.7" r="5"/><circle cx="1740.7" cy="753.3" r="5"/><circle cx="1754.9" cy="752.1" r="5"/><circle cx="1769.1" cy="756.5" r="5"/><circle cx="1726.4" cy="757.7" r="5"/><circle cx="1783.3" cy="761.8" r="5"/><circle cx="1740.7" cy="764.3" r="5"/><circle cx="1754.9" cy="770.2" r="5"/><circle cx="1769.1" cy="770.5" r="5"/><circle cx="1740.7" cy="779.6" r="5"/></g>
<line x1="1730.6" y1="698.8" x2="1779.2" y2="698.8" stroke="#000" stroke-width="3.1" stroke-linecap="round"/>
<line x1="1730.6" y1="713.9" x2="1779.2" y2="713.9" stroke="#000" stroke-width="3.1" stroke-linecap="round"/>
<line x1="1754.9" y1="698.8" x2="1754.9" y2="713.9" stroke="#000" stroke-width="3.1" stroke-linecap="butt"/>
<g fill="#FF0000"><circle cx="1888.2" cy="587.1" r="5"/><circle cx="1888.2" cy="610.2" r="5"/><circle cx="1907.7" cy="616.4" r="5"/><circle cx="1927.8" cy="629.2" r="5"/><circle cx="1868.6" cy="642.7" r="5"/><circle cx="1907.7" cy="638.3" r="5"/><circle cx="1927.8" cy="642.7" r="5"/><circle cx="1888.2" cy="651.6" r="5"/><circle cx="1907.7" cy="662.3" r="5"/><circle cx="1927.8" cy="662.3" r="5"/><circle cx="1888.2" cy="668.3" r="5"/><circle cx="1907.7" cy="676.0" r="5"/><circle cx="1888.2" cy="679.5" r="5"/><circle cx="1907.7" cy="692.3" r="5"/><circle cx="1927.8" cy="691.4" r="5"/><circle cx="1868.6" cy="700.9" r="5"/><circle cx="1888.2" cy="695.5" r="5"/><circle cx="1927.8" cy="702.1" r="5"/><circle cx="1868.6" cy="711.5" r="5"/><circle cx="1888.2" cy="711.5" r="5"/><circle cx="1927.8" cy="713.8" r="5"/><circle cx="1868.6" cy="723.1" r="5"/><circle cx="1888.2" cy="723.1" r="5"/><circle cx="1927.8" cy="724.0" r="5"/><circle cx="1907.7" cy="729.3" r="5"/><circle cx="1888.2" cy="733.2" r="5"/><circle cx="1868.6" cy="743.0" r="5"/><circle cx="1907.7" cy="741.7" r="5"/><circle cx="1927.8" cy="740.3" r="5"/></g>
<line x1="1873.5" y1="632.8" x2="1923.1" y2="632.8" stroke="#FF0000" stroke-width="3" stroke-linecap="round"/>
<line x1="1873.5" y1="656.4" x2="1923.1" y2="656.4" stroke="#FF0000" stroke-width="3" stroke-linecap="round"/>
<line x1="1898.3" y1="632.8" x2="1898.3" y2="656.4" stroke="#FF0000" stroke-width="3" stroke-linecap="butt"/>
<line x1="1754.0" y1="535.3" x2="1898.0" y2="535.3" stroke="#000" stroke-width="1.8" stroke-linecap="butt"/>
<line x1="1754.0" y1="530.0" x2="1754.0" y2="540.6" stroke="#000" stroke-width="1.8" stroke-linecap="butt"/>
<line x1="1898.0" y1="530.0" x2="1898.0" y2="540.6" stroke="#000" stroke-width="1.8" stroke-linecap="butt"/>
<text x="1828.4" y="527.1" font-size="20.5" text-anchor="middle">0.0001</text>
<text x="1735.4" y="637.4" font-size="23.5">(31)</text>
<text x="1872.5" y="573.8" font-size="23.5">(29)</text>
<text transform="translate(1771.0,836.1) rotate(-45)" font-size="41.4" text-anchor="end">wt-HRG</text>
<text transform="translate(1914.1,836.5) rotate(-45)" font-size="41.4" text-anchor="end">gof-HRG</text>
<text x="12.0" y="979.8" font-size="58" font-weight="bold">f</text>
<text transform="translate(36.0,1180.5) rotate(-90)" font-size="42.8" text-anchor="middle">Platelet</text>
<text transform="translate(83.4,1179.3) rotate(-90)" font-size="43.2" text-anchor="middle">(arb. units)</text>
<line x1="170.7" y1="1048.6" x2="170.7" y2="1310.5" stroke="#000" stroke-width="2.5" stroke-linecap="butt"/>
<line x1="159.6" y1="1050.9" x2="170.7" y2="1050.9" stroke="#000" stroke-width="2.5" stroke-linecap="butt"/>
<line x1="159.6" y1="1102.2" x2="170.7" y2="1102.2" stroke="#000" stroke-width="2.5" stroke-linecap="butt"/>
<line x1="159.6" y1="1154.3" x2="170.7" y2="1154.3" stroke="#000" stroke-width="2.5" stroke-linecap="butt"/>
<line x1="159.6" y1="1205.6" x2="170.7" y2="1205.6" stroke="#000" stroke-width="2.5" stroke-linecap="butt"/>
<line x1="159.6" y1="1257.2" x2="170.7" y2="1257.2" stroke="#000" stroke-width="2.5" stroke-linecap="butt"/>
<line x1="159.6" y1="1309.3" x2="170.7" y2="1309.3" stroke="#000" stroke-width="2.5" stroke-linecap="butt"/>
<text transform="translate(158.0,1058.1) scale(0.955,1)" font-size="20" text-anchor="end">2.5×10<tspan font-size="12.4" dx="0.8" dy="-6.0">7</tspan></text>
<text transform="translate(158.0,1109.4) scale(0.955,1)" font-size="20" text-anchor="end">2×10<tspan font-size="12.4" dx="0.8" dy="-6.0">7</tspan></text>
<text transform="translate(158.0,1161.5) scale(0.955,1)" font-size="20" text-anchor="end">1.5×10<tspan font-size="12.4" dx="0.8" dy="-6.0">7</tspan></text>
<text transform="translate(158.0,1212.8) scale(0.955,1)" font-size="20" text-anchor="end">1×10<tspan font-size="12.4" dx="0.8" dy="-6.0">7</tspan></text>
<text transform="translate(158.0,1264.4) scale(0.955,1)" font-size="20" text-anchor="end">5×10<tspan font-size="12.4" dx="0.8" dy="-6.0">6</tspan></text>
<text transform="translate(156.3,1316.5) scale(0.955,1)" font-size="20" text-anchor="end">0</text>
<path d="M170.6,1309.8 L171.0,1306.1 L171.5,1306.2 L171.9,1304.3 L172.4,1302.9 L172.8,1301.6 L173.2,1299.3 L173.7,1298.8 L174.1,1297.1 L174.5,1297.8 L175.0,1294.8 L175.4,1293.1 L175.9,1292.1 L176.3,1290.8 L176.7,1289.6 L177.2,1288.9 L177.6,1288.4 L178.0,1287.0 L178.5,1286.5 L178.9,1284.9 L179.4,1284.0 L179.8,1283.8 L180.2,1282.3 L180.7,1280.7 L181.1,1281.0 L181.5,1281.8 L182.0,1283.0 L182.4,1282.3 L182.9,1282.7 L183.3,1283.8 L183.7,1283.3 L184.2,1284.0 L184.6,1284.6 L185.0,1284.3 L185.5,1283.9 L185.9,1284.0 L186.4,1282.1 L186.8,1283.9 L187.2,1282.8 L187.7,1282.3 L188.1,1283.1 L188.5,1283.2 L189.0,1282.5 L189.4,1282.0 L189.9,1282.3 L190.3,1281.9 L190.7,1282.3 L191.2,1281.6 L191.6,1281.0 L192.0,1281.2 L192.5,1280.2 L192.9,1279.5 L193.4,1279.7 L193.8,1279.2 L194.2,1278.2 L194.7,1277.4 L195.1,1277.4 L195.5,1275.5 L196.0,1276.5 L196.4,1275.9 L196.9,1275.6 L197.3,1277.5 L197.7,1278.1 L198.2,1280.0 L198.6,1279.7 L199.0,1281.4 L199.5,1283.3 L199.9,1284.6 L200.4,1282.8 L200.8,1283.1 L201.2,1283.0 L201.7,1282.0 L202.1,1282.6 L202.5,1280.7 L203.0,1281.0 L203.4,1279.8 L203.9,1280.5 L204.3,1279.2 L204.7,1278.6 L205.2,1277.4 L205.6,1278.6 L206.0,1277.7 L206.5,1277.3 L206.9,1277.0 L207.4,1276.2 L207.8,1275.3 L208.2,1274.8 L208.7,1274.3 L209.1,1275.8 L209.5,1274.9 L210.0,1275.9 L210.4,1276.6 L210.9,1277.4 L211.3,1278.1 L211.7,1277.7 L212.2,1278.0 L212.6,1280.1 L213.0,1282.0 L213.5,1283.1 L213.9,1284.1 L214.4,1285.2 L214.8,1286.8 L215.2,1287.8 L215.7,1289.7 L216.1,1288.9 L216.5,1289.1 L217.0,1288.7 L217.4,1288.8 L217.9,1288.4 L218.3,1289.3 L218.7,1288.5 L219.2,1288.2 L219.6,1286.2 L220.0,1286.8 L220.5,1286.4 L220.9,1286.7 L221.4,1285.0 L221.8,1286.5 L222.2,1286.2 L222.7,1284.7 L223.1,1284.6 L223.5,1284.4 L224.0,1284.6 L224.4,1284.6 L224.9,1285.4 L225.3,1284.4 L225.7,1284.9 L226.2,1284.8 L226.6,1285.7 L227.0,1285.3 L227.5,1285.7 L227.9,1284.6 L228.4,1285.1 L228.8,1284.9 L229.2,1286.2 L229.7,1285.9 L230.1,1285.5 L230.5,1285.5 L231.0,1286.1 L231.4,1285.6 L231.9,1285.7 L232.3,1286.6 L232.7,1287.9 L233.2,1286.7 L233.6,1286.8 L234.0,1286.7 L234.5,1286.8 L234.9,1288.0 L235.4,1288.4 L235.8,1288.2 L236.2,1288.5 L236.7,1288.6 L237.1,1288.9 L237.5,1288.3 L238.0,1289.0 L238.4,1289.5 L238.9,1289.2 L239.3,1289.4 L239.7,1289.2 L240.2,1289.5 L240.6,1290.1 L241.0,1289.6 L241.5,1289.7 L241.9,1290.3 L242.4,1290.2 L242.8,1290.8 L243.2,1288.9 L243.7,1290.5 L244.1,1289.8 L244.5,1290.2 L245.0,1290.6 L245.4,1290.7 L245.9,1290.8 L246.3,1290.4 L246.7,1291.1 L247.2,1290.2 L247.6,1290.3 L248.0,1290.7 L248.5,1290.0 L248.9,1291.4 L249.4,1290.8 L249.8,1291.3 L250.2,1290.2 L250.7,1290.0 L251.1,1290.2 L251.5,1290.5 L252.0,1289.8 L252.4,1290.3 L252.9,1290.0 L253.3,1290.8 L253.7,1289.6 L254.2,1290.5 L254.6,1289.6 L255.0,1289.4 L255.5,1289.5 L255.9,1289.2 L256.4,1289.9 L256.8,1290.3 L257.2,1289.8 L257.7,1290.0 L258.1,1290.5 L258.5,1289.8 L259.0,1289.7 L259.4,1289.5 L259.9,1288.8 L260.3,1290.0 L260.7,1288.7 L261.2,1289.8 L261.6,1289.6 L262.0,1290.2 L262.5,1289.7 L262.9,1289.4 L263.4,1290.1 L263.8,1289.7 L264.2,1290.0 L264.7,1290.2 L265.1,1290.2 L265.5,1290.3 L266.0,1290.0 L266.4,1290.4 L266.9,1289.6 L267.3,1290.6 L267.7,1290.2 L268.2,1291.5 L268.6,1291.6 L269.0,1290.1 L269.5,1291.2 L269.9,1291.2 L270.4,1290.6 L270.8,1291.3 L271.2,1290.6 L271.7,1289.8 L272.1,1290.4 L272.5,1290.3 L273.0,1290.3 L273.4,1289.5 L273.9,1290.3 L274.3,1290.2 L274.7,1289.1 L275.2,1289.2 L275.6,1290.5 L276.0,1291.6 L276.5,1294.1 L276.9,1294.6 L277.4,1295.3 L277.8,1296.7 L278.2,1297.1 L278.7,1298.0 L279.1,1296.5 L279.5,1296.4 L280.0,1296.3 L280.4,1295.8 L280.9,1296.6 L281.3,1294.9 L281.7,1295.3 L282.2,1294.7 L282.6,1294.7 L283.0,1293.5 L283.5,1294.7 L283.9,1293.5 L284.4,1293.3 L284.8,1292.5 L285.2,1292.3 L285.7,1292.7 L286.1,1292.6 L286.5,1292.2 L287.0,1292.2 L287.4,1291.7 L287.9,1291.2 L288.3,1291.5 L288.7,1291.3 L289.2,1290.8 L289.6,1291.1 L290.0,1291.3 L290.5,1290.6 L290.9,1290.2 L291.4,1290.7 L291.8,1291.1 L292.2,1290.0 L292.7,1289.9 L293.1,1289.8 L293.5,1290.4 L294.0,1288.7 L294.4,1289.7 L294.9,1290.1 L295.3,1289.2 L295.7,1290.4 L296.2,1289.9 L296.6,1289.4 L297.0,1289.8 L297.5,1289.0 L297.9,1289.5 L298.4,1290.7 L298.8,1289.4 L299.2,1290.8 L299.7,1289.9 L300.1,1290.5 L300.5,1290.0 L301.0,1288.9 L301.4,1289.8 L301.9,1290.2 L302.3,1289.6 L302.7,1289.5 L303.2,1290.4 L303.6,1289.9 L304.0,1289.5 L304.5,1290.0 L304.9,1290.8 L305.4,1290.0 L305.8,1290.6 L306.2,1290.7 L306.7,1289.8 L307.1,1289.1 L307.5,1288.9 L308.0,1289.4 L308.4,1289.7 L308.9,1289.2 L309.3,1289.2 L309.7,1288.6 L310.2,1288.8 L310.6,1288.4 L311.0,1288.5 L311.5,1288.1 L311.9,1288.0 L312.4,1288.5 L312.8,1288.3 L313.2,1288.4 L313.7,1289.2 L314.1,1288.9 L314.5,1290.4 L315.0,1289.4 L315.4,1288.7 L315.9,1289.4 L316.3,1289.2 L316.7,1288.8 L317.2,1289.7 L317.6,1288.8 L318.0,1287.7 L318.5,1289.6 L318.9,1288.9 L319.4,1290.0 L319.8,1289.0 L320.2,1288.8 L320.7,1290.2 L321.1,1288.9 L321.5,1289.5 L322.0,1290.2 L322.4,1289.6 L322.9,1289.5 L323.3,1289.6 L323.7,1289.9 L324.2,1289.1 L324.6,1289.8 L325.0,1289.8 L325.5,1290.7 L325.9,1289.3 L326.4,1289.1 L326.8,1289.9 L327.2,1289.3 L327.7,1289.7 L328.1,1289.6 L328.5,1290.1 L329.0,1289.2 L329.4,1289.5 L329.9,1288.2 L330.3,1289.1 L330.7,1290.3 L331.2,1289.2 L331.6,1289.2 L332.0,1288.9 L332.5,1289.8 L332.9,1289.6 L333.4,1288.9 L333.8,1289.8 L334.2,1289.6 L334.7,1289.9 L335.1,1289.2 L335.5,1290.4 L336.0,1289.7 L336.4,1289.5 L336.9,1289.3 L337.3,1289.4 L337.7,1289.9 L338.2,1289.4 L338.6,1290.0 L339.0,1289.8 L339.5,1290.2 L339.9,1289.9 L340.4,1289.5 L340.8,1288.6 L341.2,1289.8 L341.7,1290.1 L342.1,1289.8 L342.5,1290.0 L343.0,1289.6 L343.4,1289.7 L343.9,1289.4 L344.3,1290.6 L344.7,1290.1 L345.2,1289.8 L345.6,1289.4 L346.0,1290.0 L346.5,1290.9 L346.9,1290.4 L347.4,1289.9 L347.8,1291.0 L348.2,1291.0 L348.7,1290.9 L349.1,1291.1 L349.5,1291.8 L350.0,1291.9 L350.4,1292.4 L350.9,1292.1 L351.3,1293.7 L351.7,1293.5 L352.2,1294.8 L352.6,1292.7 L353.0,1293.8 L353.5,1293.8 L353.9,1292.9 L354.4,1293.1 L354.8,1293.0 L355.2,1292.7 L355.7,1291.9 L356.1,1291.9 L356.5,1292.3 L357.0,1292.2 L357.4,1291.4 L357.9,1291.3 L358.3,1291.3 L358.7,1291.7 L359.2,1290.6 L359.6,1290.4 L360.0,1291.1 L360.5,1290.4 L360.9,1290.6 L361.4,1290.9 L361.8,1291.1 L362.2,1290.3 L362.7,1291.1 L363.1,1289.8 L363.5,1290.9 L364.0,1289.8 L364.4,1289.9 L364.9,1290.8 L365.3,1290.3 L365.7,1290.0 L366.2,1290.2 L366.6,1290.5 L367.0,1290.1 L367.5,1290.0 L367.9,1290.4 L368.4,1289.4 L368.8,1289.4 L369.2,1289.2 L369.7,1289.9 L370.1,1289.7 L370.5,1289.7 L371.0,1289.0 L371.4,1288.8 L371.9,1289.1 L372.3,1288.4 L372.7,1288.9 L373.2,1288.7 L373.6,1287.8 L374.0,1288.0 L374.5,1287.9 L374.9,1288.7 L375.4,1289.0 L375.8,1287.6 L376.2,1287.6 L376.7,1286.3 L377.1,1287.5 L377.5,1287.3 L378.0,1286.7 L378.4,1287.6 L378.9,1286.3 L379.3,1286.9 L379.7,1287.0 L380.2,1286.3 L380.6,1287.3 L381.0,1287.3 L381.5,1286.0 L381.9,1285.9 L382.4,1286.8 L382.8,1286.4 L383.2,1285.8 L383.7,1286.2 L384.1,1286.2 L384.5,1286.1 L385.0,1286.5 L385.4,1286.2 L385.9,1286.4 L386.3,1285.6 L386.7,1284.6 L387.2,1284.2 L387.6,1283.7 L388.0,1282.8 L388.5,1281.2 L388.9,1281.7 L389.4,1280.7 L389.8,1280.8 L390.2,1279.9 L390.7,1280.1 L391.1,1280.0 L391.5,1280.7 L392.0,1280.0 L392.4,1279.7 L392.9,1280.0 L393.3,1279.7 L393.7,1280.0 L394.2,1279.9 L394.6,1280.0 L395.0,1280.8 L395.5,1279.7 L395.9,1279.9 L396.4,1279.8 L396.8,1280.2 L397.2,1279.3 L397.7,1279.5 L398.1,1279.9 L398.5,1280.2 L399.0,1279.9 L399.4,1279.6 L399.9,1279.5 L400.3,1280.3 L400.7,1280.9 L401.2,1280.4 L401.6,1280.4 L402.0,1280.6 L402.5,1280.0 L402.9,1280.4 L403.4,1280.5 L403.8,1280.9 L404.2,1280.8 L404.7,1280.3 L405.1,1281.6 L405.5,1281.9 L406.0,1281.0 L406.4,1281.5 L406.9,1281.5 L407.3,1281.8 L407.7,1280.8 L408.2,1282.4 L408.6,1281.2 L409.0,1281.7 L409.5,1280.9 L409.9,1280.3 L410.4,1280.2 L410.8,1280.4 L411.2,1279.2 L411.7,1279.2 L412.1,1278.8 L412.5,1277.9 L413.0,1279.1 L413.4,1278.5 L413.9,1277.9 L414.3,1278.2 L414.7,1276.8 L415.2,1277.0 L415.6,1277.6 L416.1,1276.9 L416.5,1275.0 L416.9,1274.2 L417.4,1275.0 L417.8,1275.8 L418.2,1274.7 L418.7,1274.6 L419.1,1275.1 L419.6,1274.6 L420.0,1275.4 L420.4,1275.9 L420.9,1275.9 L421.3,1276.1 L421.7,1275.8 L422.2,1276.6 L422.6,1276.3 L423.1,1277.4 L423.5,1278.3 L423.9,1276.8 L424.4,1276.3 L424.8,1277.4 L425.2,1278.1 L425.7,1278.6 L426.1,1278.8 L426.6,1278.1 L427.0,1278.4 L427.4,1279.6 L427.9,1278.5 L428.3,1279.7 L428.7,1279.1 L429.2,1279.7 L429.6,1279.8 L430.1,1279.9 L430.5,1280.0 L430.9,1279.2 L431.4,1279.9 L431.8,1279.9 L432.2,1280.1 L432.7,1280.7 L433.1,1280.0 L433.6,1279.9 L434.0,1279.9 L434.4,1280.2 L434.9,1280.9 L435.3,1280.2 L435.7,1281.2 L436.2,1280.9 L436.6,1280.6 L437.1,1279.9 L437.5,1280.6 L437.9,1280.7 L438.4,1279.4 L438.8,1280.8 L439.2,1280.9 L439.7,1280.2 L440.1,1280.2 L440.6,1281.0 L441.0,1280.4 L441.4,1279.2 L441.9,1279.6 L442.3,1279.4 L442.7,1279.3 L443.2,1278.1 L443.6,1279.6 L444.1,1278.8 L444.5,1279.1 L444.9,1278.8 L445.4,1279.2 L445.8,1278.6 L446.2,1278.2 L446.7,1278.8 L447.1,1279.1 L447.6,1278.2 L448.0,1278.9 L448.4,1278.3 L448.9,1277.9 L449.3,1279.0 L449.7,1277.8 L450.2,1278.8 L450.6,1278.1 L451.1,1278.6 L451.5,1277.8 L451.9,1278.0 L452.4,1279.0 L452.8,1278.6 L453.2,1278.5 L453.7,1278.3 L454.1,1278.8 L454.6,1277.9 L455.0,1278.1 L455.4,1278.6 L455.9,1278.3 L456.3,1278.4 L456.7,1278.8 L457.2,1278.8 L457.6,1278.8 L458.1,1279.8 L458.5,1279.5 L458.9,1279.6 L459.4,1279.2 L459.8,1279.3 L460.2,1279.1 L460.7,1279.9 L461.1,1279.4 L461.6,1280.4 L462.0,1281.4 L462.4,1282.1 L462.9,1282.1 L463.3,1281.4 L463.7,1282.4 L464.2,1282.1 L464.6,1283.0 L465.1,1282.6 L465.5,1283.2 L465.9,1284.1 L466.4,1283.4 L466.8,1284.2 L467.2,1283.2 L467.7,1283.0 L468.1,1283.9 L468.6,1284.2 L469.0,1283.2 L469.4,1283.6 L469.9,1282.9 L470.3,1283.6 L470.7,1284.2 L471.2,1283.8 L471.6,1283.7 L472.1,1283.4 L472.5,1284.3 L472.9,1284.6 L473.4,1284.5 L473.8,1284.3 L474.2,1283.6 L474.7,1285.0 L475.1,1284.1 L475.6,1284.0 L476.0,1284.5 L476.4,1283.0 L476.9,1284.0 L477.3,1284.0 L477.7,1284.2 L478.2,1284.6 L478.6,1284.2 L479.1,1283.0 L479.5,1283.7 L479.9,1284.0 L480.4,1283.9 L480.8,1283.2 L481.2,1283.0 L481.7,1284.1 L482.1,1283.9 L482.6,1283.7 L483.0,1282.8 L483.4,1284.6 L483.9,1282.2 L484.3,1283.5 L484.7,1284.7 L485.2,1283.5 L485.6,1283.7 L486.1,1282.9 L486.5,1284.2 L486.9,1282.8 L487.4,1283.6 L487.8,1283.5 L488.2,1282.9 L488.7,1283.8 L489.1,1282.9 L489.6,1283.5 L490.0,1284.1 L490.4,1284.2 L490.9,1284.9 L491.3,1285.4 L491.7,1285.0 L492.2,1285.2 L492.6,1285.4 L493.1,1285.8 L493.5,1286.6 L493.9,1286.4 L494.4,1286.9 L494.8,1287.0 L495.2,1286.8 L495.7,1288.0 L496.1,1287.3 L496.6,1288.1 L497.0,1289.1 L497.4,1288.0 L497.9,1288.6 L498.3,1287.7 L498.7,1288.2 L499.2,1287.7 L499.6,1288.2 L500.1,1288.0 L500.5,1288.3 L500.9,1288.9 L501.4,1288.2 L501.8,1288.4 L502.2,1287.9 L502.7,1287.8 L503.1,1287.4 L503.6,1286.9" fill="none" stroke="#FF0000" stroke-width="3.0" stroke-linejoin="round"/>
<path d="M170.6,1308.8 L171.0,1309.0 L171.5,1307.5 L171.9,1306.1 L172.4,1306.6 L172.8,1304.6 L173.2,1303.7 L173.7,1302.6 L174.1,1301.9 L174.5,1301.6 L175.0,1302.1 L175.4,1300.0 L175.9,1298.6 L176.3,1297.8 L176.7,1297.1 L177.2,1295.2 L177.6,1295.3 L178.0,1294.6 L178.5,1293.4 L178.9,1292.6 L179.4,1290.4 L179.8,1289.2 L180.2,1290.0 L180.7,1288.9 L181.1,1286.3 L181.5,1286.3 L182.0,1286.1 L182.4,1286.5 L182.9,1286.4 L183.3,1286.0 L183.7,1286.5 L184.2,1286.6 L184.6,1286.6 L185.0,1285.6 L185.5,1285.0 L185.9,1286.4 L186.4,1285.6 L186.8,1286.2 L187.2,1286.1 L187.7,1285.4 L188.1,1284.6 L188.5,1284.4 L189.0,1284.6 L189.4,1283.0 L189.9,1283.6 L190.3,1283.0 L190.7,1283.5 L191.2,1285.3 L191.6,1285.1 L192.0,1287.2 L192.5,1287.2 L192.9,1288.4 L193.4,1289.3 L193.8,1291.3 L194.2,1290.3 L194.7,1290.5 L195.1,1289.4 L195.5,1290.2 L196.0,1290.3 L196.4,1288.9 L196.9,1289.3 L197.3,1288.2 L197.7,1287.1 L198.2,1283.4 L198.6,1280.0 L199.0,1279.3 L199.5,1275.9 L199.9,1272.9 L200.4,1270.7 L200.8,1267.7 L201.2,1266.1 L201.7,1263.1 L202.1,1262.7 L202.5,1260.5 L203.0,1257.4 L203.4,1255.7 L203.9,1254.5 L204.3,1252.0 L204.7,1251.3 L205.2,1249.6 L205.6,1246.6 L206.0,1243.9 L206.5,1241.7 L206.9,1239.5 L207.4,1236.7 L207.8,1233.0 L208.2,1230.7 L208.7,1227.0 L209.1,1224.9 L209.5,1221.2 L210.0,1231.7 L210.4,1243.0 L210.9,1255.7 L211.3,1254.8 L211.7,1253.6 L212.2,1250.9 L212.6,1250.0 L213.0,1248.9 L213.5,1247.5 L213.9,1245.4 L214.4,1244.4 L214.8,1242.7 L215.2,1242.3 L215.7,1240.3 L216.1,1240.0 L216.5,1240.9 L217.0,1243.8 L217.4,1245.9 L217.9,1246.7 L218.3,1248.6 L218.7,1247.2 L219.2,1245.6 L219.6,1245.8 L220.0,1244.3 L220.5,1247.4 L220.9,1249.9 L221.4,1254.5 L221.8,1257.8 L222.2,1257.8 L222.7,1255.0 L223.1,1253.0 L223.5,1251.1 L224.0,1250.2 L224.4,1247.5 L224.9,1245.0 L225.3,1242.9 L225.7,1243.0 L226.2,1245.1 L226.6,1243.7 L227.0,1244.8 L227.5,1246.3 L227.9,1247.2 L228.4,1251.3 L228.8,1257.7 L229.2,1263.6 L229.7,1269.7 L230.1,1270.1 L230.5,1270.9 L231.0,1269.8 L231.4,1270.4 L231.9,1268.0 L232.3,1268.3 L232.7,1266.0 L233.2,1265.0 L233.6,1265.2 L234.0,1263.5 L234.5,1263.3 L234.9,1261.5 L235.4,1262.2 L235.8,1260.3 L236.2,1258.7 L236.7,1258.5 L237.1,1258.0 L237.5,1256.1 L238.0,1256.0 L238.4,1256.0 L238.9,1254.8 L239.3,1253.8 L239.7,1253.1 L240.2,1253.4 L240.6,1251.8 L241.0,1250.5 L241.5,1251.5 L241.9,1250.9 L242.4,1252.2 L242.8,1250.9 L243.2,1249.8 L243.7,1249.3 L244.1,1249.9 L244.5,1248.8 L245.0,1248.5 L245.4,1248.4 L245.9,1248.6 L246.3,1248.9 L246.7,1249.1 L247.2,1250.0 L247.6,1248.5 L248.0,1244.2 L248.5,1244.4 L248.9,1240.6 L249.4,1239.0 L249.8,1235.5 L250.2,1233.9 L250.7,1231.5 L251.1,1229.2 L251.5,1227.3 L252.0,1224.9 L252.4,1221.6 L252.9,1219.8 L253.3,1218.0 L253.7,1215.7 L254.2,1212.8 L254.6,1211.4 L255.0,1210.2 L255.5,1208.4 L255.9,1207.1 L256.4,1207.5 L256.8,1205.1 L257.2,1204.2 L257.7,1202.4 L258.1,1202.4 L258.5,1201.5 L259.0,1199.0 L259.4,1198.2 L259.9,1198.6 L260.3,1201.9 L260.7,1203.1 L261.2,1203.8 L261.6,1206.8 L262.0,1208.0 L262.5,1207.5 L262.9,1206.4 L263.4,1204.7 L263.8,1203.7 L264.2,1203.3 L264.7,1201.8 L265.1,1200.2 L265.5,1200.9 L266.0,1199.4 L266.4,1199.2 L266.9,1199.2 L267.3,1200.2 L267.7,1200.4 L268.2,1200.1 L268.6,1200.5 L269.0,1199.2 L269.5,1200.0 L269.9,1200.0 L270.4,1198.9 L270.8,1197.4 L271.2,1194.2 L271.7,1195.5 L272.1,1191.4 L272.5,1190.4 L273.0,1188.9 L273.4,1187.2 L273.9,1184.1 L274.3,1179.2 L274.7,1177.3 L275.2,1175.4 L275.6,1171.5 L276.0,1168.4 L276.5,1164.6 L276.9,1163.8 L277.4,1160.4 L277.8,1156.6 L278.2,1155.6 L278.7,1154.6 L279.1,1152.9 L279.5,1152.4 L280.0,1151.7 L280.4,1150.8 L280.9,1150.2 L281.3,1148.4 L281.7,1147.0 L282.2,1148.2 L282.6,1149.4 L283.0,1150.9 L283.5,1154.1 L283.9,1155.0 L284.4,1155.9 L284.8,1156.4 L285.2,1155.6 L285.7,1156.9 L286.1,1157.0 L286.5,1156.8 L287.0,1157.4 L287.4,1156.9 L287.9,1156.2 L288.3,1157.6 L288.7,1157.5 L289.2,1158.7 L289.6,1159.0 L290.0,1159.3 L290.5,1160.3 L290.9,1161.8 L291.4,1162.4 L291.8,1162.7 L292.2,1163.5 L292.7,1163.8 L293.1,1164.6 L293.5,1165.8 L294.0,1166.1 L294.4,1167.0 L294.9,1166.5 L295.3,1166.3 L295.7,1166.4 L296.2,1167.3 L296.6,1168.5 L297.0,1168.6 L297.5,1169.5 L297.9,1171.9 L298.4,1176.1 L298.8,1178.7 L299.2,1180.4 L299.7,1184.6 L300.1,1184.5 L300.5,1185.2 L301.0,1184.5 L301.4,1184.7 L301.9,1184.3 L302.3,1183.4 L302.7,1183.8 L303.2,1183.4 L303.6,1184.2 L304.0,1183.1 L304.5,1181.3 L304.9,1180.8 L305.4,1179.3 L305.8,1177.6 L306.2,1175.6 L306.7,1172.2 L307.1,1170.9 L307.5,1169.2 L308.0,1167.7 L308.4,1164.6 L308.9,1164.1 L309.3,1162.4 L309.7,1159.9 L310.2,1158.7 L310.6,1157.3 L311.0,1154.6 L311.5,1153.2 L311.9,1151.1 L312.4,1148.7 L312.8,1146.6 L313.2,1144.2 L313.7,1143.1 L314.1,1140.0 L314.5,1137.8 L315.0,1136.6 L315.4,1133.7 L315.9,1132.6 L316.3,1131.2 L316.7,1128.9 L317.2,1127.2 L317.6,1125.9 L318.0,1124.1 L318.5,1120.9 L318.9,1119.3 L319.4,1119.2 L319.8,1116.8 L320.2,1116.1 L320.7,1117.9 L321.1,1120.2 L321.5,1120.9 L322.0,1123.2 L322.4,1124.3 L322.9,1126.0 L323.3,1126.4 L323.7,1128.8 L324.2,1131.0 L324.6,1130.7 L325.0,1133.4 L325.5,1133.7 L325.9,1133.9 L326.4,1133.8 L326.8,1133.4 L327.2,1133.9 L327.7,1135.3 L328.1,1135.7 L328.5,1136.2 L329.0,1139.9 L329.4,1144.7 L329.9,1148.7 L330.3,1153.1 L330.7,1153.5 L331.2,1151.9 L331.6,1149.9 L332.0,1147.2 L332.5,1146.1 L332.9,1143.7 L333.4,1143.4 L333.8,1141.6 L334.2,1141.0 L334.7,1140.1 L335.1,1138.9 L335.5,1138.5 L336.0,1135.9 L336.4,1134.1 L336.9,1134.8 L337.3,1134.0 L337.7,1133.6 L338.2,1132.8 L338.6,1132.8 L339.0,1132.4 L339.5,1131.4 L339.9,1131.7 L340.4,1132.9 L340.8,1133.1 L341.2,1135.4 L341.7,1134.1 L342.1,1135.5 L342.5,1137.3 L343.0,1137.0 L343.4,1137.5 L343.9,1138.1 L344.3,1139.3 L344.7,1139.7 L345.2,1137.6 L345.6,1136.2 L346.0,1134.1 L346.5,1133.5 L346.9,1131.6 L347.4,1129.6 L347.8,1128.4 L348.2,1127.4 L348.7,1126.5 L349.1,1124.3 L349.5,1123.2 L350.0,1122.7 L350.4,1119.6 L350.9,1118.4 L351.3,1118.9 L351.7,1117.8 L352.2,1116.6 L352.6,1116.0 L353.0,1114.9 L353.5,1114.6 L353.9,1113.2 L354.4,1113.1 L354.8,1111.1 L355.2,1110.5 L355.7,1110.3 L356.1,1109.1 L356.5,1109.0 L357.0,1108.0 L357.4,1107.1 L357.9,1107.1 L358.3,1106.1 L358.7,1104.9 L359.2,1104.7 L359.6,1104.3 L360.0,1104.0 L360.5,1103.8 L360.9,1103.8 L361.4,1103.3 L361.8,1103.9 L362.2,1103.4 L362.7,1102.4 L363.1,1103.3 L363.5,1102.8 L364.0,1101.7 L364.4,1102.0 L364.9,1102.3 L365.3,1101.6 L365.7,1110.8 L366.2,1121.3 L366.6,1124.5 L367.0,1124.9 L367.5,1126.4 L367.9,1126.9 L368.4,1128.6 L368.8,1128.2 L369.2,1129.8 L369.7,1130.5 L370.1,1130.4 L370.5,1130.2 L371.0,1130.8 L371.4,1130.2 L371.9,1130.4 L372.3,1130.9 L372.7,1131.2 L373.2,1132.1 L373.6,1131.2 L374.0,1132.6 L374.5,1139.1 L374.9,1149.7 L375.4,1160.2 L375.8,1171.0 L376.2,1172.1 L376.7,1171.3 L377.1,1173.0 L377.5,1172.9 L378.0,1172.5 L378.4,1172.7 L378.9,1173.1 L379.3,1173.7 L379.7,1174.2 L380.2,1173.1 L380.6,1175.5 L381.0,1174.3 L381.5,1174.2 L381.9,1175.0 L382.4,1174.8 L382.8,1176.3 L383.2,1175.7 L383.7,1174.9 L384.1,1175.1 L384.5,1175.2 L385.0,1175.4 L385.4,1176.2 L385.9,1175.7 L386.3,1177.3 L386.7,1176.7 L387.2,1176.9 L387.6,1177.9 L388.0,1176.5 L388.5,1177.5 L388.9,1178.7 L389.4,1178.7 L389.8,1179.0 L390.2,1179.6 L390.7,1179.3 L391.1,1179.9 L391.5,1179.5 L392.0,1179.5 L392.4,1181.7 L392.9,1180.5 L393.3,1180.6 L393.7,1181.9 L394.2,1181.7 L394.6,1180.7 L395.0,1180.7 L395.5,1181.0 L395.9,1180.5 L396.4,1182.1 L396.8,1182.8 L397.2,1183.7 L397.7,1185.0 L398.1,1185.9 L398.5,1187.5 L399.0,1188.2 L399.4,1187.2 L399.9,1189.7 L400.3,1189.4 L400.7,1190.1 L401.2,1192.4 L401.6,1192.4 L402.0,1193.6 L402.5,1195.3 L402.9,1195.2 L403.4,1196.0 L403.8,1197.7 L404.2,1198.5 L404.7,1198.2 L405.1,1197.1 L405.5,1197.7 L406.0,1198.2 L406.4,1199.5 L406.9,1199.0 L407.3,1199.1 L407.7,1199.5 L408.2,1198.7 L408.6,1199.3 L409.0,1199.4 L409.5,1198.7 L409.9,1199.4 L410.4,1199.7 L410.8,1198.8 L411.2,1199.9 L411.7,1199.9 L412.1,1200.0 L412.5,1198.9 L413.0,1199.5 L413.4,1200.3 L413.9,1199.9 L414.3,1198.9 L414.7,1199.5 L415.2,1200.3 L415.6,1200.0 L416.1,1201.1 L416.5,1203.2 L416.9,1202.5 L417.4,1203.3 L417.8,1203.6 L418.2,1204.6 L418.7,1206.7 L419.1,1206.5 L419.6,1206.7 L420.0,1207.7 L420.4,1209.1 L420.9,1210.4 L421.3,1210.3 L421.7,1212.0 L422.2,1212.1 L422.6,1212.9 L423.1,1213.2 L423.5,1213.5 L423.9,1213.1 L424.4,1213.5 L424.8,1214.1 L425.2,1213.2 L425.7,1214.3 L426.1,1214.7 L426.6,1215.3 L427.0,1214.9 L427.4,1215.0 L427.9,1215.3 L428.3,1214.8 L428.7,1215.2 L429.2,1215.6 L429.6,1215.6 L430.1,1214.8 L430.5,1215.3 L430.9,1214.3 L431.4,1216.1 L431.8,1215.3 L432.2,1215.9 L432.7,1215.1 L433.1,1215.8 L433.6,1216.1 L434.0,1216.5 L434.4,1215.2 L434.9,1216.2 L435.3,1215.3 L435.7,1214.6 L436.2,1215.0 L436.6,1214.2 L437.1,1213.9 L437.5,1213.3 L437.9,1213.6 L438.4,1213.5 L438.8,1213.6 L439.2,1213.3 L439.7,1213.7 L440.1,1214.4 L440.6,1215.1 L441.0,1214.5 L441.4,1215.5 L441.9,1214.8 L442.3,1214.3 L442.7,1215.5 L443.2,1214.7 L443.6,1215.7 L444.1,1216.3 L444.5,1215.6 L444.9,1215.9 L445.4,1217.6 L445.8,1216.4 L446.2,1216.6 L446.7,1217.0 L447.1,1216.7 L447.6,1216.8 L448.0,1217.3 L448.4,1215.8 L448.9,1218.2 L449.3,1216.9 L449.7,1217.0 L450.2,1218.1 L450.6,1218.0 L451.1,1217.4 L451.5,1218.4 L451.9,1217.7 L452.4,1218.2 L452.8,1217.8 L453.2,1218.4 L453.7,1219.3 L454.1,1219.3 L454.6,1219.5 L455.0,1220.0 L455.4,1219.6 L455.9,1219.4 L456.3,1219.8 L456.7,1221.1 L457.2,1220.3 L457.6,1220.6 L458.1,1220.5 L458.5,1220.9 L458.9,1221.1 L459.4,1221.0 L459.8,1221.1 L460.2,1220.9 L460.7,1221.0 L461.1,1221.9 L461.6,1222.2 L462.0,1222.5 L462.4,1222.1 L462.9,1221.7 L463.3,1222.7 L463.7,1222.8 L464.2,1221.6 L464.6,1223.1 L465.1,1223.1 L465.5,1223.8 L465.9,1222.2 L466.4,1222.2 L466.8,1223.6 L467.2,1222.1 L467.7,1222.9 L468.1,1222.8 L468.6,1222.9 L469.0,1222.5 L469.4,1223.6 L469.9,1224.4 L470.3,1224.2 L470.7,1224.3 L471.2,1223.9 L471.6,1225.1 L472.1,1224.6 L472.5,1225.0 L472.9,1223.6 L473.4,1224.8 L473.8,1224.0 L474.2,1225.0 L474.7,1225.0 L475.1,1224.4 L475.6,1225.2 L476.0,1225.9 L476.4,1225.6 L476.9,1225.8 L477.3,1225.0 L477.7,1225.2 L478.2,1225.1 L478.6,1225.9 L479.1,1226.6 L479.5,1226.3 L479.9,1226.1 L480.4,1225.5 L480.8,1226.5 L481.2,1226.1 L481.7,1225.2 L482.1,1225.3 L482.6,1226.2 L483.0,1225.9 L483.4,1227.4 L483.9,1226.5 L484.3,1225.9 L484.7,1226.2 L485.2,1227.5 L485.6,1226.0 L486.1,1227.1 L486.5,1226.9 L486.9,1227.6 L487.4,1227.1 L487.8,1226.5 L488.2,1227.1 L488.7,1226.9 L489.1,1227.5 L489.6,1226.9 L490.0,1228.1 L490.4,1226.9 L490.9,1227.3 L491.3,1226.7 L491.7,1227.2 L492.2,1227.2 L492.6,1227.3 L493.1,1227.7 L493.5,1226.9 L493.9,1226.8 L494.4,1228.0 L494.8,1227.2 L495.2,1227.0 L495.7,1228.1 L496.1,1227.9 L496.6,1225.9 L497.0,1227.3 L497.4,1228.0 L497.9,1228.1 L498.3,1227.3 L498.7,1228.6 L499.2,1227.2 L499.6,1227.6 L500.1,1227.8 L500.5,1227.8 L500.9,1228.3 L501.4,1228.5 L501.8,1227.9" fill="none" stroke="#000" stroke-width="3.0" stroke-linejoin="round"/>
<line x1="169.4" y1="1309.3" x2="541.3" y2="1309.3" stroke="#000" stroke-width="2.5" stroke-linecap="butt"/>
<line x1="170.6" y1="1309.3" x2="170.6" y2="1320.3" stroke="#000" stroke-width="2.5" stroke-linecap="butt"/>
<text x="170.6" y="1341.2" font-size="18.5" text-anchor="middle">0</text>
<line x1="244.4" y1="1309.3" x2="244.4" y2="1320.3" stroke="#000" stroke-width="2.5" stroke-linecap="butt"/>
<text x="244.4" y="1341.2" font-size="18.5" text-anchor="middle">50</text>
<line x1="318.2" y1="1309.3" x2="318.2" y2="1320.3" stroke="#000" stroke-width="2.5" stroke-linecap="butt"/>
<text x="318.2" y="1341.2" font-size="18.5" text-anchor="middle">100</text>
<line x1="392.0" y1="1309.3" x2="392.0" y2="1320.3" stroke="#000" stroke-width="2.5" stroke-linecap="butt"/>
<text x="392.0" y="1341.2" font-size="18.5" text-anchor="middle">150</text>
<line x1="465.9" y1="1309.3" x2="465.9" y2="1320.3" stroke="#000" stroke-width="2.5" stroke-linecap="butt"/>
<text x="465.9" y="1341.2" font-size="18.5" text-anchor="middle">200</text>
<line x1="539.7" y1="1309.3" x2="539.7" y2="1320.3" stroke="#000" stroke-width="2.5" stroke-linecap="butt"/>
<text x="539.7" y="1341.2" font-size="18.5" text-anchor="middle">250</text>
<text x="356.9" y="1386.7" font-size="40.8" text-anchor="middle">Time (s)</text>
<line x1="386.5" y1="1052.5" x2="413.5" y2="1052.5" stroke="#000" stroke-width="3.2" stroke-linecap="round"/>
<text transform="translate(428.4,1063.7) scale(0.922,1)" font-size="33">wt-HRG</text>
<line x1="386.5" y1="1092.2" x2="413.5" y2="1092.2" stroke="#FF0000" stroke-width="3.2" stroke-linecap="round"/>
<text transform="translate(427.7,1104.3) scale(0.937,1)" font-size="33">gof-HRG</text>
<text x="547.4" y="981.5" font-size="58" font-weight="bold">g</text>
<text transform="translate(599.9,1171.1) rotate(-90)" font-size="43.6" text-anchor="middle">Fibrin (arb. units)</text>
<line x1="682.6" y1="1039.6" x2="682.6" y2="1303.8" stroke="#000" stroke-width="2.5" stroke-linecap="butt"/>
<line x1="670.5" y1="1041.9" x2="682.6" y2="1041.9" stroke="#000" stroke-width="2.5" stroke-linecap="butt"/>
<line x1="670.5" y1="1107.5" x2="682.6" y2="1107.5" stroke="#000" stroke-width="2.5" stroke-linecap="butt"/>
<line x1="670.5" y1="1172.6" x2="682.6" y2="1172.6" stroke="#000" stroke-width="2.5" stroke-linecap="butt"/>
<line x1="670.5" y1="1237.3" x2="682.6" y2="1237.3" stroke="#000" stroke-width="2.5" stroke-linecap="butt"/>
<line x1="670.5" y1="1302.6" x2="682.6" y2="1302.6" stroke="#000" stroke-width="2.5" stroke-linecap="butt"/>
<text transform="translate(669.0,1049.1) scale(0.955,1)" font-size="20" text-anchor="end">2×10<tspan font-size="12.4" dx="0.8" dy="-6.0">7</tspan></text>
<text transform="translate(669.0,1114.7) scale(0.955,1)" font-size="20" text-anchor="end">1.5×10<tspan font-size="12.4" dx="0.8" dy="-6.0">7</tspan></text>
<text transform="translate(669.0,1179.8) scale(0.955,1)" font-size="20" text-anchor="end">1×10<tspan font-size="12.4" dx="0.8" dy="-6.0">7</tspan></text>
<text transform="translate(669.0,1244.5) scale(0.955,1)" font-size="20" text-anchor="end">5×10<tspan font-size="12.4" dx="0.8" dy="-6.0">6</tspan></text>
<text transform="translate(666.8,1309.8) scale(0.955,1)" font-size="20" text-anchor="end">0</text>
<path d="M682.4,1301.8 L682.8,1301.5 L683.3,1300.6 L683.7,1298.9 L684.1,1298.1 L684.6,1297.1 L685.0,1296.8 L685.4,1295.6 L685.9,1295.1 L686.3,1293.1 L686.8,1293.7 L687.2,1292.1 L687.6,1291.6 L688.1,1290.3 L688.5,1289.3 L688.9,1289.6 L689.4,1289.6 L689.8,1289.0 L690.3,1288.9 L690.7,1289.1 L691.1,1288.2 L691.6,1287.8 L692.0,1288.5 L692.4,1287.9 L692.9,1287.2 L693.3,1287.5 L693.8,1287.5 L694.2,1287.4 L694.6,1287.4 L695.1,1288.3 L695.5,1288.8 L695.9,1288.5 L696.4,1288.4 L696.8,1289.1 L697.3,1289.4 L697.7,1289.1 L698.1,1289.6 L698.6,1290.0 L699.0,1289.6 L699.4,1289.5 L699.9,1290.2 L700.3,1290.3 L700.8,1290.9 L701.2,1289.7 L701.6,1289.9 L702.1,1289.7 L702.5,1289.2 L702.9,1289.9 L703.4,1290.0 L703.8,1289.3 L704.3,1290.1 L704.7,1289.8 L705.1,1289.6 L705.6,1289.4 L706.0,1289.5 L706.4,1288.4 L706.9,1289.1 L707.3,1289.0 L707.8,1287.8 L708.2,1288.8 L708.6,1288.6 L709.1,1289.1 L709.5,1288.6 L709.9,1288.8 L710.4,1289.1 L710.8,1288.5 L711.3,1289.3 L711.7,1289.0 L712.1,1289.3 L712.6,1288.9 L713.0,1289.6 L713.4,1289.5 L713.9,1289.2 L714.3,1289.6 L714.8,1289.9 L715.2,1290.2 L715.6,1288.7 L716.1,1289.9 L716.5,1289.7 L716.9,1289.6 L717.4,1289.3 L717.8,1290.5 L718.3,1289.5 L718.7,1290.5 L719.1,1291.0 L719.6,1289.8 L720.0,1290.5 L720.4,1290.2 L720.9,1291.1 L721.3,1291.8 L721.8,1292.2 L722.2,1290.6 L722.6,1291.3 L723.1,1292.0 L723.5,1292.6 L723.9,1292.2 L724.4,1291.8 L724.8,1292.4 L725.3,1292.4 L725.7,1292.5 L726.1,1292.4 L726.6,1293.0 L727.0,1293.1 L727.4,1293.0 L727.9,1293.0 L728.3,1292.5 L728.8,1292.9 L729.2,1293.7 L729.6,1293.1 L730.1,1292.6 L730.5,1293.9 L730.9,1293.5 L731.4,1294.3 L731.8,1293.4 L732.3,1293.2 L732.7,1292.8 L733.1,1294.0 L733.6,1294.6 L734.0,1293.1 L734.4,1293.3 L734.9,1293.8 L735.3,1293.2 L735.8,1293.5 L736.2,1293.5 L736.6,1293.8 L737.1,1294.2 L737.5,1293.8 L737.9,1294.2 L738.4,1293.6 L738.8,1294.0 L739.3,1292.9 L739.7,1293.2 L740.1,1294.2 L740.6,1293.6 L741.0,1294.1 L741.4,1294.1 L741.9,1294.5 L742.3,1294.3 L742.8,1294.3 L743.2,1293.8 L743.6,1293.6 L744.1,1293.6 L744.5,1293.7 L744.9,1293.4 L745.4,1293.6 L745.8,1293.8 L746.3,1294.0 L746.7,1293.7 L747.1,1293.0 L747.6,1293.9 L748.0,1294.0 L748.4,1294.4 L748.9,1294.1 L749.3,1293.6 L749.8,1293.6 L750.2,1294.7 L750.6,1294.0 L751.1,1294.3 L751.5,1294.3 L751.9,1292.9 L752.4,1293.3 L752.8,1293.2 L753.3,1293.1 L753.7,1292.9 L754.1,1292.7 L754.6,1292.5 L755.0,1291.6 L755.4,1292.1 L755.9,1291.7 L756.3,1292.0 L756.8,1291.6 L757.2,1291.9 L757.6,1291.9 L758.1,1291.5 L758.5,1291.4 L758.9,1291.4 L759.4,1291.3 L759.8,1291.5 L760.3,1291.5 L760.7,1292.0 L761.1,1291.9 L761.6,1292.3 L762.0,1291.5 L762.4,1292.6 L762.9,1292.0 L763.3,1292.1 L763.8,1292.5 L764.2,1292.4 L764.6,1292.9 L765.1,1292.6 L765.5,1292.5 L765.9,1292.5 L766.4,1293.3 L766.8,1292.5 L767.3,1291.8 L767.7,1292.1 L768.1,1291.3 L768.6,1292.6 L769.0,1290.9 L769.4,1291.7 L769.9,1291.5 L770.3,1290.4 L770.8,1291.0 L771.2,1291.2 L771.6,1290.8 L772.1,1290.5 L772.5,1290.6 L772.9,1290.1 L773.4,1290.0 L773.8,1289.6 L774.3,1289.8 L774.7,1289.0 L775.1,1289.8 L775.6,1289.2 L776.0,1288.8 L776.4,1289.5 L776.9,1290.0 L777.3,1289.6 L777.8,1288.9 L778.2,1289.4 L778.6,1288.9 L779.1,1289.0 L779.5,1289.0 L779.9,1287.9 L780.4,1289.0 L780.8,1288.4 L781.3,1288.5 L781.7,1288.1 L782.1,1288.0 L782.6,1288.3 L783.0,1289.0 L783.4,1289.3 L783.9,1288.5 L784.3,1289.0 L784.8,1288.3 L785.2,1287.6 L785.6,1288.4 L786.1,1288.5 L786.5,1288.1 L786.9,1288.4 L787.4,1288.5 L787.8,1287.8 L788.3,1287.4 L788.7,1288.0 L789.1,1287.9 L789.6,1287.8 L790.0,1288.4 L790.4,1288.7 L790.9,1287.7 L791.3,1288.1 L791.8,1288.2 L792.2,1288.1 L792.6,1288.2 L793.1,1287.6 L793.5,1288.1 L793.9,1288.7 L794.4,1288.1 L794.8,1287.5 L795.3,1288.0 L795.7,1288.3 L796.1,1287.9 L796.6,1287.5 L797.0,1288.5 L797.4,1287.2 L797.9,1288.0 L798.3,1287.8 L798.8,1287.2 L799.2,1288.3 L799.6,1287.9 L800.1,1287.2 L800.5,1288.0 L800.9,1287.4 L801.4,1286.6 L801.8,1287.0 L802.3,1287.3 L802.7,1287.4 L803.1,1287.0 L803.6,1286.8 L804.0,1286.9 L804.4,1286.4 L804.9,1286.9 L805.3,1286.3 L805.8,1286.3 L806.2,1286.2 L806.6,1285.4 L807.1,1285.4 L807.5,1286.3 L807.9,1285.6 L808.4,1285.2 L808.8,1285.3 L809.3,1284.8 L809.7,1285.0 L810.1,1284.5 L810.6,1284.7 L811.0,1283.8 L811.4,1284.9 L811.9,1284.0 L812.3,1283.4 L812.8,1283.8 L813.2,1283.6 L813.6,1283.7 L814.1,1283.0 L814.5,1283.6 L814.9,1284.9 L815.4,1282.5 L815.8,1283.1 L816.3,1282.6 L816.7,1282.7 L817.1,1281.6 L817.6,1281.8 L818.0,1282.3 L818.4,1282.0 L818.9,1282.6 L819.3,1281.3 L819.8,1281.6 L820.2,1282.7 L820.6,1280.9 L821.1,1280.6 L821.5,1280.9 L821.9,1280.7 L822.4,1281.0 L822.8,1280.5 L823.3,1279.9 L823.7,1280.2 L824.1,1281.1 L824.6,1280.4 L825.0,1278.4 L825.4,1279.4 L825.9,1278.9 L826.3,1279.4 L826.8,1278.9 L827.2,1279.8 L827.6,1279.2 L828.1,1279.1 L828.5,1278.7 L828.9,1278.4 L829.4,1278.5 L829.8,1278.8 L830.3,1278.4 L830.7,1277.9 L831.1,1278.5 L831.6,1277.9 L832.0,1277.7 L832.4,1277.2 L832.9,1277.2 L833.3,1277.1 L833.8,1276.0 L834.2,1277.6 L834.6,1277.3 L835.1,1276.8 L835.5,1277.3 L835.9,1276.9 L836.4,1276.8 L836.8,1275.4 L837.3,1276.3 L837.7,1276.5 L838.1,1276.9 L838.6,1276.9 L839.0,1276.6 L839.4,1275.3 L839.9,1274.7 L840.3,1275.9 L840.8,1275.5 L841.2,1275.8 L841.6,1275.2 L842.1,1275.3 L842.5,1274.4 L842.9,1275.2 L843.4,1274.7 L843.8,1274.9 L844.3,1274.8 L844.7,1274.5 L845.1,1274.6 L845.6,1274.4 L846.0,1274.6 L846.4,1274.4 L846.9,1273.9 L847.3,1273.8 L847.8,1274.7 L848.2,1273.8 L848.6,1274.2 L849.1,1273.8 L849.5,1273.3 L849.9,1273.2 L850.4,1273.5 L850.8,1273.4 L851.3,1273.5 L851.7,1272.6 L852.1,1272.8 L852.6,1272.9 L853.0,1273.6 L853.4,1271.7 L853.9,1272.9 L854.3,1272.4 L854.8,1272.7 L855.2,1272.2 L855.6,1272.5 L856.1,1273.0 L856.5,1272.3 L856.9,1272.3 L857.4,1272.2 L857.8,1271.6 L858.3,1272.1 L858.7,1271.7 L859.1,1271.3 L859.6,1271.6 L860.0,1271.4 L860.4,1271.7 L860.9,1271.3 L861.3,1271.0 L861.8,1271.8 L862.2,1271.5 L862.6,1271.6 L863.1,1271.2 L863.5,1270.8 L863.9,1270.6 L864.4,1270.6 L864.8,1271.1 L865.3,1270.7 L865.7,1269.9 L866.1,1270.5 L866.6,1269.8 L867.0,1270.4 L867.4,1269.7 L867.9,1269.6 L868.3,1270.2 L868.8,1270.0 L869.2,1269.3 L869.6,1270.3 L870.1,1270.9 L870.5,1269.2 L870.9,1270.6 L871.4,1269.4 L871.8,1269.4 L872.3,1269.5 L872.7,1268.8 L873.1,1270.0 L873.6,1269.6 L874.0,1269.0 L874.4,1269.1 L874.9,1268.5 L875.3,1268.9 L875.8,1269.5 L876.2,1268.2 L876.6,1268.7 L877.1,1268.9 L877.5,1269.2 L877.9,1269.3 L878.4,1268.4 L878.8,1268.2 L879.3,1268.7 L879.7,1268.2 L880.1,1268.0 L880.6,1268.5 L881.0,1268.6 L881.4,1267.8 L881.9,1267.4 L882.3,1267.6 L882.8,1266.3 L883.2,1267.0 L883.6,1266.4 L884.1,1267.8 L884.5,1266.9 L884.9,1266.4 L885.4,1266.1 L885.8,1264.9 L886.3,1266.2 L886.7,1266.5 L887.1,1265.2 L887.6,1265.7 L888.0,1265.6 L888.4,1264.4 L888.9,1265.3 L889.3,1265.3 L889.8,1264.7 L890.2,1264.4 L890.6,1264.6 L891.1,1263.4 L891.5,1264.0 L891.9,1264.2 L892.4,1263.0 L892.8,1263.9 L893.3,1263.1 L893.7,1262.3 L894.1,1263.1 L894.6,1262.7 L895.0,1263.3 L895.4,1262.6 L895.9,1263.5 L896.3,1262.7 L896.8,1263.2 L897.2,1262.7 L897.6,1262.8 L898.1,1263.5 L898.5,1263.0 L898.9,1262.7 L899.4,1262.3 L899.8,1263.3 L900.3,1263.1 L900.7,1262.6 L901.1,1262.8 L901.6,1262.2 L902.0,1262.2 L902.4,1262.2 L902.9,1262.7 L903.3,1262.7 L903.8,1262.2 L904.2,1262.8 L904.6,1262.8 L905.1,1262.5 L905.5,1262.9 L905.9,1262.1 L906.4,1262.1 L906.8,1262.2 L907.3,1261.8 L907.7,1262.1 L908.1,1261.0 L908.6,1262.1 L909.0,1261.0 L909.4,1261.1 L909.9,1260.5 L910.3,1261.2 L910.8,1261.4 L911.2,1261.2 L911.6,1260.9 L912.1,1259.7 L912.5,1259.9 L912.9,1259.9 L913.4,1259.6 L913.8,1260.4 L914.3,1259.8 L914.7,1259.6 L915.1,1259.7 L915.6,1258.9 L916.0,1258.7 L916.4,1258.6 L916.9,1259.0 L917.3,1258.8 L917.8,1258.8 L918.2,1258.8 L918.6,1257.6 L919.1,1257.8 L919.5,1257.9 L919.9,1257.1 L920.4,1257.3 L920.8,1257.9 L921.3,1257.8 L921.7,1257.6 L922.1,1257.0 L922.6,1256.7 L923.0,1257.1 L923.4,1256.3 L923.9,1256.5 L924.3,1256.8 L924.8,1255.8 L925.2,1255.6 L925.6,1255.7 L926.1,1255.8 L926.5,1255.6 L926.9,1255.4 L927.4,1255.5 L927.8,1254.5 L928.3,1254.7 L928.7,1255.1 L929.1,1254.6 L929.6,1254.3 L930.0,1254.3 L930.5,1254.4 L930.9,1254.6 L931.3,1254.2 L931.8,1254.7 L932.2,1255.3 L932.6,1254.4 L933.1,1255.0 L933.5,1254.5 L934.0,1253.8 L934.4,1254.1 L934.8,1253.7 L935.3,1254.4 L935.7,1253.5 L936.1,1254.5 L936.6,1254.1 L937.0,1252.9 L937.5,1254.1 L937.9,1254.4 L938.3,1253.3 L938.8,1254.0 L939.2,1252.7 L939.6,1253.5 L940.1,1252.6 L940.5,1253.5 L941.0,1252.4 L941.4,1252.0 L941.8,1253.3 L942.3,1254.1 L942.7,1252.7 L943.1,1253.3 L943.6,1252.9 L944.0,1252.6 L944.5,1252.7 L944.9,1252.7 L945.3,1251.1 L945.8,1251.5 L946.2,1251.0 L946.6,1249.8 L947.1,1250.8 L947.5,1250.6 L948.0,1248.9 L948.4,1249.7 L948.8,1248.6 L949.3,1248.1 L949.7,1248.5 L950.1,1247.5 L950.6,1247.2 L951.0,1247.3 L951.5,1247.2 L951.9,1246.9 L952.3,1245.8 L952.8,1245.7 L953.2,1246.9 L953.6,1245.9 L954.1,1246.3 L954.5,1245.7 L955.0,1246.1 L955.4,1245.5 L955.8,1246.8 L956.3,1245.5 L956.7,1245.9 L957.1,1245.8 L957.6,1246.4 L958.0,1245.1 L958.5,1245.7 L958.9,1245.6 L959.3,1245.9 L959.8,1245.9 L960.2,1245.4 L960.6,1245.7 L961.1,1245.4 L961.5,1245.8 L962.0,1245.5 L962.4,1245.2 L962.8,1245.5 L963.3,1245.7 L963.7,1246.5 L964.1,1245.2 L964.6,1245.6 L965.0,1246.1 L965.5,1244.5 L965.9,1244.6 L966.3,1244.8 L966.8,1245.3 L967.2,1246.4 L967.6,1245.5 L968.1,1245.8 L968.5,1245.1 L969.0,1244.1 L969.4,1244.1 L969.8,1245.6 L970.3,1245.2 L970.7,1244.5 L971.1,1245.6 L971.6,1244.4 L972.0,1245.6 L972.5,1245.7 L972.9,1244.7 L973.3,1244.5 L973.8,1245.4 L974.2,1244.5 L974.6,1245.3 L975.1,1244.4 L975.5,1245.2 L976.0,1244.9 L976.4,1244.6 L976.8,1244.3 L977.3,1244.8 L977.7,1243.8 L978.1,1244.5 L978.6,1244.4 L979.0,1244.8 L979.5,1243.9 L979.9,1245.2 L980.3,1244.3 L980.8,1243.8 L981.2,1244.9 L981.6,1245.0 L982.1,1244.1 L982.5,1243.8 L983.0,1244.1 L983.4,1243.8 L983.8,1243.9 L984.3,1244.7 L984.7,1244.1 L985.1,1244.0 L985.6,1244.0 L986.0,1243.8 L986.5,1244.2 L986.9,1244.1 L987.3,1243.5 L987.8,1243.7 L988.2,1244.7 L988.6,1243.8 L989.1,1243.4 L989.5,1244.4 L990.0,1243.4 L990.4,1242.9 L990.8,1243.7 L991.3,1242.9 L991.7,1243.0 L992.1,1243.4 L992.6,1243.1 L993.0,1242.8 L993.5,1242.8 L993.9,1242.8 L994.3,1243.5 L994.8,1242.6 L995.2,1242.6 L995.6,1243.7 L996.1,1242.5 L996.5,1243.3 L997.0,1243.2 L997.4,1242.5 L997.8,1241.9 L998.3,1242.7 L998.7,1242.7 L999.1,1242.8 L999.6,1242.3 L1000.0,1242.8 L1000.5,1242.8 L1000.9,1241.6 L1001.3,1242.7 L1001.8,1242.1 L1002.2,1241.7 L1002.6,1241.7 L1003.1,1242.7 L1003.5,1242.2 L1004.0,1240.9 L1004.4,1241.7 L1004.8,1241.5 L1005.3,1241.5 L1005.7,1241.3 L1006.1,1240.8 L1006.6,1241.8 L1007.0,1240.9 L1007.5,1241.1 L1007.9,1240.9 L1008.3,1240.8 L1008.8,1241.4 L1009.2,1241.2 L1009.6,1240.7 L1010.1,1240.5 L1010.5,1240.6 L1011.0,1241.3 L1011.4,1240.8 L1011.8,1240.8 L1012.3,1240.6 L1012.7,1240.6 L1013.1,1240.7 L1013.6,1239.8 L1014.0,1241.3 L1014.5,1240.2 L1014.9,1240.2 L1015.3,1241.0 L1015.8,1240.5 L1016.2,1240.4 L1016.6,1240.1 L1017.1,1239.6 L1017.5,1240.3 L1018.0,1240.7 L1018.4,1239.8 L1018.8,1240.7 L1019.3,1239.6 L1019.7,1239.7 L1020.1,1240.2 L1020.6,1240.0 L1021.0,1240.2 L1021.5,1239.6 L1021.9,1239.4 L1022.3,1239.0 L1022.8,1239.2 L1023.2,1239.3 L1023.6,1239.1 L1024.1,1239.8 L1024.5,1239.3" fill="none" stroke="#008000" stroke-width="3.0" stroke-linejoin="round"/>
<path d="M682.4,1300.0 L682.7,1302.4 L683.1,1297.9 L683.4,1295.9 L683.8,1296.6 L684.1,1294.9 L684.5,1291.3 L684.8,1289.4 L685.2,1288.3 L685.5,1288.6 L685.9,1285.7 L686.2,1283.6 L686.6,1282.6 L686.9,1282.1 L687.3,1278.0 L687.6,1277.3 L688.0,1274.7 L688.3,1276.2 L688.7,1274.2 L689.0,1271.7 L689.4,1269.1 L689.7,1268.1 L690.1,1264.0 L690.4,1265.3 L690.8,1263.8 L691.1,1263.8 L691.5,1264.4 L691.8,1264.7 L692.2,1265.5 L692.5,1265.6 L692.9,1265.2 L693.2,1264.2 L693.6,1265.6 L693.9,1264.9 L694.3,1266.1 L694.6,1264.2 L695.0,1262.5 L695.3,1264.6 L695.7,1267.3 L696.0,1266.3 L696.4,1266.4 L696.7,1267.9 L697.1,1268.2 L697.4,1268.8 L697.8,1268.5 L698.1,1269.7 L698.5,1270.4 L698.8,1270.2 L699.2,1269.7 L699.5,1269.9 L699.9,1269.7 L700.2,1268.5 L700.6,1267.4 L700.9,1266.5 L701.3,1267.5 L701.6,1264.5 L702.0,1264.3 L702.3,1264.2 L702.7,1261.5 L703.0,1260.8 L703.4,1260.6 L703.7,1260.2 L704.1,1258.1 L704.4,1257.2 L704.8,1256.1 L705.1,1254.0 L705.5,1255.1 L705.8,1253.0 L706.2,1251.4 L706.5,1253.2 L706.9,1252.1 L707.2,1253.1 L707.6,1254.4 L707.9,1253.9 L708.3,1256.0 L708.6,1254.1 L709.0,1256.0 L709.3,1256.6 L709.7,1257.8 L710.0,1257.6 L710.4,1257.4 L710.7,1257.6 L711.1,1257.8 L711.4,1258.8 L711.8,1256.6 L712.1,1257.2 L712.5,1256.1 L712.8,1255.9 L713.2,1254.9 L713.5,1256.5 L713.9,1253.5 L714.2,1253.8 L714.6,1253.3 L714.9,1253.1 L715.3,1252.4 L715.6,1251.8 L716.0,1251.8 L716.3,1249.1 L716.7,1249.9 L717.0,1248.2 L717.4,1249.0 L717.7,1247.2 L718.1,1246.9 L718.4,1247.8 L718.8,1249.7 L719.1,1249.5 L719.5,1249.8 L719.8,1251.4 L720.2,1249.9 L720.5,1249.4 L720.9,1251.5 L721.2,1252.2 L721.6,1254.2 L721.9,1255.6 L722.3,1253.0 L722.6,1257.0 L723.0,1256.8 L723.3,1256.7 L723.7,1256.7 L724.0,1258.9 L724.4,1257.1 L724.7,1256.9 L725.1,1257.7 L725.4,1256.6 L725.8,1258.6 L726.1,1258.4 L726.5,1259.0 L726.8,1259.4 L727.2,1258.4 L727.5,1260.8 L727.9,1259.0 L728.2,1261.0 L728.6,1259.1 L728.9,1260.8 L729.3,1259.5 L729.6,1260.0 L730.0,1259.1 L730.3,1257.5 L730.7,1258.2 L731.0,1259.0 L731.4,1259.2 L731.7,1257.1 L732.1,1256.2 L732.4,1256.6 L732.8,1256.0 L733.1,1254.4 L733.5,1253.0 L733.8,1253.3 L734.2,1252.2 L734.5,1250.7 L734.9,1248.0 L735.2,1247.7 L735.6,1246.2 L735.9,1246.1 L736.3,1251.3 L736.6,1253.7 L737.0,1256.4 L737.3,1261.2 L737.7,1262.2 L738.0,1262.2 L738.4,1262.5 L738.7,1262.0 L739.1,1260.1 L739.4,1260.9 L739.8,1262.0 L740.1,1260.4 L740.5,1261.1 L740.8,1261.3 L741.2,1262.2 L741.5,1262.0 L741.9,1261.6 L742.2,1260.6 L742.6,1261.5 L742.9,1260.9 L743.3,1259.8 L743.6,1260.7 L744.0,1259.5 L744.3,1257.9 L744.7,1259.3 L745.0,1257.5 L745.4,1257.8 L745.7,1255.4 L746.1,1256.3 L746.4,1255.0 L746.8,1254.5 L747.1,1253.2 L747.5,1256.4 L747.8,1253.9 L748.2,1253.8 L748.5,1254.1 L748.9,1252.6 L749.2,1252.7 L749.6,1250.5 L749.9,1251.5 L750.3,1250.5 L750.6,1250.9 L751.0,1250.1 L751.3,1248.2 L751.7,1247.5 L752.0,1248.2 L752.4,1249.6 L752.7,1249.2 L753.1,1249.1 L753.4,1246.8 L753.8,1246.1 L754.1,1247.8 L754.5,1248.0 L754.8,1247.6 L755.2,1248.4 L755.5,1247.8 L755.9,1246.7 L756.2,1246.9 L756.6,1247.7 L756.9,1247.6 L757.3,1247.4 L757.6,1249.6 L758.0,1247.3 L758.3,1247.6 L758.7,1246.6 L759.0,1247.2 L759.4,1248.0 L759.7,1248.0 L760.1,1247.4 L760.4,1247.9 L760.8,1247.6 L761.1,1245.8 L761.5,1244.6 L761.8,1249.6 L762.2,1248.3 L762.5,1247.5 L762.9,1245.9 L763.2,1246.4 L763.6,1248.7 L763.9,1244.6 L764.3,1246.0 L764.6,1246.2 L765.0,1244.8 L765.3,1244.5 L765.7,1242.9 L766.0,1244.4 L766.4,1240.5 L766.7,1239.3 L767.1,1240.0 L767.4,1240.2 L767.8,1238.1 L768.1,1238.2 L768.5,1236.0 L768.8,1234.6 L769.2,1236.3 L769.5,1236.0 L769.9,1235.5 L770.2,1233.2 L770.6,1232.1 L770.9,1231.6 L771.3,1232.0 L771.6,1232.3 L772.0,1231.7 L772.3,1229.5 L772.7,1230.5 L773.0,1229.9 L773.4,1229.5 L773.7,1228.9 L774.1,1228.3 L774.4,1228.6 L774.8,1227.8 L775.1,1227.6 L775.5,1226.4 L775.8,1227.0 L776.2,1226.2 L776.5,1224.1 L776.9,1226.1 L777.2,1225.0 L777.6,1225.8 L777.9,1224.4 L778.3,1224.1 L778.6,1224.1 L779.0,1223.5 L779.3,1222.8 L779.7,1221.2 L780.0,1224.0 L780.4,1220.4 L780.7,1221.1 L781.1,1221.5 L781.4,1220.8 L781.8,1220.5 L782.1,1220.2 L782.5,1220.2 L782.8,1218.8 L783.2,1220.7 L783.5,1216.7 L783.9,1217.4 L784.2,1216.4 L784.6,1215.7 L784.9,1216.1 L785.3,1217.0 L785.6,1214.8 L786.0,1214.5 L786.3,1215.6 L786.7,1215.2 L787.0,1216.3 L787.4,1215.2 L787.7,1214.2 L788.1,1213.5 L788.4,1213.7 L788.8,1213.2 L789.1,1211.9 L789.5,1212.9 L789.8,1212.5 L790.2,1212.2 L790.5,1211.8 L790.9,1213.4 L791.2,1212.3 L791.6,1212.3 L791.9,1210.7 L792.3,1210.1 L792.6,1210.5 L793.0,1210.7 L793.3,1210.0 L793.7,1209.9 L794.0,1210.7 L794.4,1209.9 L794.7,1208.5 L795.1,1208.7 L795.4,1208.4 L795.8,1209.0 L796.1,1207.7 L796.5,1208.4 L796.8,1209.1 L797.2,1208.4 L797.5,1207.4 L797.9,1207.6 L798.2,1208.1 L798.6,1208.3 L798.9,1208.5 L799.3,1207.5 L799.6,1206.4 L800.0,1208.7 L800.3,1207.6 L800.7,1207.5 L801.0,1207.1 L801.4,1205.7 L801.7,1206.0 L802.1,1206.3 L802.4,1206.7 L802.8,1205.6 L803.1,1202.5 L803.5,1204.8 L803.8,1205.1 L804.2,1205.7 L804.5,1204.9 L804.9,1206.2 L805.2,1205.0 L805.6,1204.7 L805.9,1204.0 L806.3,1201.7 L806.6,1203.4 L807.0,1202.9 L807.3,1201.7 L807.7,1202.2 L808.0,1201.5 L808.4,1200.2 L808.7,1199.9 L809.1,1199.2 L809.4,1199.1 L809.8,1197.9 L810.1,1198.2 L810.5,1195.4 L810.8,1196.3 L811.2,1194.5 L811.5,1195.0 L811.9,1195.4 L812.2,1194.3 L812.6,1193.7 L812.9,1193.3 L813.3,1194.0 L813.6,1191.1 L814.0,1192.3 L814.3,1189.6 L814.7,1190.1 L815.0,1190.4 L815.4,1189.3 L815.7,1190.0 L816.1,1190.3 L816.4,1188.4 L816.8,1189.1 L817.1,1188.7 L817.5,1187.0 L817.8,1188.4 L818.2,1187.6 L818.5,1189.3 L818.9,1187.1 L819.2,1189.2 L819.6,1187.0 L819.9,1189.0 L820.3,1187.5 L820.6,1187.2 L821.0,1187.3 L821.3,1187.2 L821.7,1187.4 L822.0,1187.5 L822.4,1185.4 L822.7,1184.3 L823.1,1182.8 L823.4,1184.6 L823.8,1185.4 L824.1,1184.8 L824.5,1194.5 L824.8,1196.4 L825.2,1190.9 L825.5,1186.0 L825.9,1181.4 L826.2,1178.9 L826.6,1180.5 L826.9,1178.0 L827.3,1178.6 L827.6,1177.6 L828.0,1177.3 L828.3,1176.1 L828.7,1175.5 L829.0,1175.8 L829.4,1174.4 L829.7,1177.1 L830.1,1173.9 L830.4,1173.4 L830.8,1173.6 L831.1,1173.2 L831.5,1172.0 L831.8,1174.1 L832.2,1174.7 L832.5,1173.1 L832.9,1174.5 L833.2,1173.5 L833.6,1174.6 L833.9,1175.1 L834.3,1175.2 L834.6,1175.3 L835.0,1174.3 L835.3,1175.8 L835.7,1174.7 L836.0,1175.5 L836.4,1175.9 L836.7,1175.0 L837.1,1174.2 L837.4,1176.0 L837.8,1174.5 L838.1,1174.8 L838.5,1174.6 L838.8,1176.5 L839.2,1175.2 L839.5,1172.4 L839.9,1174.2 L840.2,1174.5 L840.6,1173.4 L840.9,1170.4 L841.3,1170.1 L841.6,1169.6 L842.0,1169.1 L842.3,1167.5 L842.7,1165.9 L843.0,1167.3 L843.4,1166.9 L843.7,1164.9 L844.1,1165.5 L844.4,1165.8 L844.8,1165.3 L845.1,1165.5 L845.5,1165.5 L845.8,1165.0 L846.2,1164.1 L846.5,1162.8 L846.9,1164.3 L847.2,1164.7 L847.6,1165.0 L847.9,1162.9 L848.3,1162.6 L848.6,1163.7 L849.0,1163.4 L849.3,1162.2 L849.7,1162.2 L850.0,1160.5 L850.4,1161.4 L850.7,1159.8 L851.1,1160.0 L851.4,1159.7 L851.8,1159.0 L852.1,1157.2 L852.5,1158.0 L852.8,1158.7 L853.2,1158.0 L853.5,1157.4 L853.9,1157.8 L854.2,1157.6 L854.6,1157.4 L854.9,1156.1 L855.3,1157.4 L855.6,1157.6 L856.0,1157.7 L856.3,1157.8 L856.7,1159.6 L857.0,1159.5 L857.4,1162.8 L857.7,1161.4 L858.1,1161.8 L858.4,1162.3 L858.8,1164.9 L859.1,1162.9 L859.5,1164.2 L859.8,1164.3 L860.2,1164.5 L860.5,1163.4 L860.9,1163.2 L861.2,1159.7 L861.6,1159.7 L861.9,1160.0 L862.3,1156.8 L862.6,1155.9 L863.0,1154.0 L863.3,1151.2 L863.7,1152.7 L864.0,1153.5 L864.4,1151.7 L864.7,1150.1 L865.1,1151.7 L865.4,1151.1 L865.8,1151.6 L866.1,1151.2 L866.5,1149.8 L866.8,1150.0 L867.2,1147.7 L867.5,1150.0 L867.9,1148.8 L868.2,1149.2 L868.6,1148.9 L868.9,1147.7 L869.3,1148.1 L869.6,1147.8 L870.0,1147.1 L870.3,1149.2 L870.7,1149.8 L871.0,1149.0 L871.4,1151.0 L871.7,1150.8 L872.1,1151.5 L872.4,1150.7 L872.8,1150.2 L873.1,1152.8 L873.5,1153.0 L873.8,1152.7 L874.2,1152.2 L874.5,1151.5 L874.9,1150.8 L875.2,1149.6 L875.6,1147.4 L875.9,1149.1 L876.3,1146.2 L876.6,1146.4 L877.0,1145.6 L877.3,1145.2 L877.7,1142.7 L878.0,1144.4 L878.4,1143.1 L878.7,1143.0 L879.1,1143.2 L879.4,1141.2 L879.8,1138.9 L880.1,1141.8 L880.5,1142.5 L880.8,1142.1 L881.2,1140.4 L881.5,1140.6 L881.9,1140.8 L882.2,1138.7 L882.6,1139.5 L882.9,1139.3 L883.3,1141.1 L883.6,1138.9 L884.0,1140.7 L884.3,1139.1 L884.7,1137.3 L885.0,1140.3 L885.4,1137.0 L885.7,1138.0 L886.1,1138.6 L886.4,1136.1 L886.8,1135.1 L887.1,1136.7 L887.5,1135.3 L887.8,1133.7 L888.2,1133.4 L888.5,1133.6 L888.9,1134.4 L889.2,1132.8 L889.6,1133.2 L889.9,1133.7 L890.3,1132.9 L890.6,1132.6 L891.0,1132.0 L891.3,1129.0 L891.7,1131.7 L892.0,1131.7 L892.4,1132.1 L892.7,1132.0 L893.1,1132.4 L893.4,1133.6 L893.8,1135.4 L894.1,1135.1 L894.5,1136.2 L894.8,1137.2 L895.2,1138.7 L895.5,1137.7 L895.9,1137.7 L896.2,1138.9 L896.6,1137.2 L896.9,1137.9 L897.3,1136.3 L897.6,1137.4 L898.0,1137.1 L898.3,1137.0 L898.7,1136.3 L899.0,1135.7 L899.4,1136.2 L899.7,1135.9 L900.1,1137.2 L900.4,1136.9 L900.8,1134.9 L901.1,1136.4 L901.5,1135.3 L901.8,1136.0 L902.2,1135.1 L902.5,1134.2 L902.9,1136.5 L903.2,1136.0 L903.6,1134.6 L903.9,1134.0 L904.3,1135.2 L904.6,1134.7 L905.0,1135.5 L905.3,1136.4 L905.7,1137.2 L906.0,1135.6 L906.4,1137.2 L906.7,1137.0 L907.1,1135.6 L907.4,1134.5 L907.8,1136.8 L908.1,1136.7 L908.5,1138.3 L908.8,1137.5 L909.2,1136.9 L909.5,1137.8 L909.9,1135.3 L910.2,1136.5 L910.6,1136.1 L910.9,1137.6 L911.3,1135.8 L911.6,1131.7 L912.0,1135.0 L912.3,1132.2 L912.7,1132.9 L913.0,1131.0 L913.4,1130.9 L913.7,1130.5 L914.1,1129.4 L914.4,1127.6 L914.8,1128.9 L915.1,1127.3 L915.5,1126.1 L915.8,1126.0 L916.2,1124.5 L916.5,1126.7 L916.9,1125.1 L917.2,1125.2 L917.6,1125.2 L917.9,1124.0 L918.3,1123.8 L918.6,1125.0 L919.0,1125.1 L919.3,1126.0 L919.7,1125.1 L920.0,1123.7 L920.4,1125.1 L920.7,1125.4 L921.1,1125.5 L921.4,1124.9 L921.8,1123.4 L922.1,1125.6 L922.5,1123.8 L922.8,1125.0 L923.2,1123.0 L923.5,1125.1 L923.9,1123.7 L924.2,1125.3 L924.6,1125.9 L924.9,1125.3 L925.3,1123.2 L925.6,1123.4 L926.0,1123.4 L926.3,1124.8 L926.7,1124.4 L927.0,1124.1 L927.4,1124.1 L927.7,1124.3 L928.1,1124.2 L928.4,1125.1 L928.8,1123.4 L929.1,1123.5 L929.5,1121.5 L929.8,1121.9 L930.2,1122.4 L930.5,1121.8 L930.9,1123.0 L931.2,1123.6 L931.6,1122.2 L931.9,1122.0 L932.3,1121.9 L932.6,1122.3 L933.0,1121.6 L933.3,1122.4 L933.7,1122.2 L934.0,1122.1 L934.4,1122.4 L934.7,1121.6 L935.1,1121.6 L935.4,1122.9 L935.8,1121.2 L936.1,1121.8 L936.5,1121.1 L936.8,1120.5 L937.2,1120.4 L937.5,1119.9 L937.9,1120.6 L938.2,1119.9 L938.6,1120.0 L938.9,1121.3 L939.3,1120.0 L939.6,1121.0 L940.0,1120.2 L940.3,1120.6 L940.7,1119.4 L941.0,1120.4 L941.4,1122.9 L941.7,1121.6 L942.1,1122.1 L942.4,1121.7 L942.8,1122.6 L943.1,1121.1 L943.5,1121.7 L943.8,1123.1 L944.2,1123.8 L944.5,1123.0 L944.9,1123.5 L945.2,1123.7 L945.6,1124.1 L945.9,1123.5 L946.3,1123.7 L946.6,1125.2 L947.0,1124.0 L947.3,1125.0 L947.7,1125.6 L948.0,1125.6 L948.4,1127.0 L948.7,1126.7 L949.1,1127.4 L949.4,1126.6 L949.8,1126.7 L950.1,1127.6 L950.5,1127.3 L950.8,1126.4 L951.2,1127.0 L951.5,1126.6 L951.9,1126.4 L952.2,1127.6 L952.6,1125.6 L952.9,1126.1 L953.3,1126.0 L953.6,1125.2 L954.0,1124.2 L954.3,1125.7 L954.7,1125.1 L955.0,1124.8 L955.4,1124.6 L955.7,1124.4 L956.1,1123.4 L956.4,1124.3 L956.8,1122.2 L957.1,1123.6 L957.5,1122.1 L957.8,1123.0 L958.2,1123.8 L958.5,1122.9 L958.9,1122.6 L959.2,1123.4 L959.6,1122.7 L959.9,1122.5 L960.3,1122.4 L960.6,1124.0 L961.0,1123.2 L961.3,1123.0 L961.7,1121.4 L962.0,1123.0 L962.4,1121.2 L962.7,1122.7 L963.1,1121.2 L963.4,1123.9 L963.8,1120.5 L964.1,1123.1 L964.5,1122.6 L964.8,1120.2 L965.2,1121.5 L965.5,1123.0 L965.9,1122.6 L966.2,1120.1 L966.6,1121.0 L966.9,1120.3 L967.3,1120.1 L967.6,1120.2 L968.0,1122.1 L968.3,1120.3 L968.7,1119.7 L969.0,1119.3 L969.4,1119.9 L969.7,1119.7 L970.1,1118.0 L970.4,1119.8 L970.8,1117.2 L971.1,1117.7 L971.5,1118.1 L971.8,1118.9 L972.2,1116.8 L972.5,1117.1 L972.9,1117.7 L973.2,1116.8 L973.6,1117.0 L973.9,1116.6 L974.3,1115.7 L974.6,1115.7 L975.0,1115.7 L975.3,1114.6 L975.7,1115.9 L976.0,1112.6 L976.4,1113.5 L976.7,1115.6 L977.1,1114.7 L977.4,1113.7 L977.8,1114.6 L978.1,1115.2 L978.5,1113.7 L978.8,1114.9 L979.2,1114.0 L979.5,1114.0 L979.9,1114.0 L980.2,1115.1 L980.6,1113.0 L980.9,1113.7 L981.3,1114.6 L981.6,1112.8 L982.0,1112.5 L982.3,1114.4 L982.7,1113.8 L983.0,1113.7 L983.4,1113.9 L983.7,1112.9 L984.1,1116.4 L984.4,1112.8 L984.8,1113.3 L985.1,1112.4 L985.5,1113.2 L985.8,1115.0 L986.2,1113.6 L986.5,1114.1 L986.9,1113.1 L987.2,1115.2 L987.6,1113.7 L987.9,1112.4 L988.3,1114.3 L988.6,1113.2 L989.0,1114.1 L989.3,1113.7 L989.7,1113.8 L990.0,1113.7 L990.4,1112.8 L990.7,1112.2 L991.1,1114.4 L991.4,1113.4 L991.8,1113.8 L992.1,1113.2 L992.5,1111.7 L992.8,1112.4 L993.2,1114.8 L993.5,1112.9 L993.9,1113.3 L994.2,1112.3 L994.6,1113.2 L994.9,1113.4 L995.3,1113.5 L995.6,1113.7 L996.0,1113.2 L996.3,1113.3 L996.7,1113.8 L997.0,1114.1 L997.4,1113.7 L997.7,1115.4 L998.1,1114.1 L998.4,1114.0 L998.8,1113.3 L999.1,1114.9 L999.5,1113.0 L999.8,1112.5 L1000.2,1113.1 L1000.5,1114.6 L1000.9,1113.0 L1001.2,1115.2 L1001.6,1114.1 L1001.9,1112.8 L1002.3,1113.9 L1002.6,1115.8 L1003.0,1113.4 L1003.3,1113.0 L1003.7,1114.7 L1004.0,1115.4 L1004.4,1115.2 L1004.7,1114.0 L1005.1,1114.5 L1005.4,1114.6 L1005.8,1115.4 L1006.1,1116.3 L1006.5,1114.3 L1006.8,1115.6 L1007.2,1114.0 L1007.5,1114.7 L1007.9,1113.2 L1008.2,1113.1 L1008.6,1114.0 L1008.9,1112.7 L1009.3,1114.1 L1009.6,1112.6 L1010.0,1113.0 L1010.3,1112.7 L1010.7,1112.3 L1011.0,1112.5 L1011.4,1113.2 L1011.7,1114.9 L1012.1,1110.8 L1012.4,1111.9 L1012.8,1111.0 L1013.1,1110.0 L1013.5,1110.6 L1013.8,1109.2 L1014.2,1109.5 L1014.5,1110.3 L1014.9,1106.9 L1015.2,1108.6 L1015.6,1108.3 L1015.9,1106.7 L1016.3,1107.6 L1016.6,1107.0 L1017.0,1106.0 L1017.3,1107.0 L1017.7,1104.5 L1018.0,1106.3 L1018.4,1105.6 L1018.7,1104.9 L1019.1,1105.7 L1019.4,1105.6 L1019.8,1106.7 L1020.1,1104.7 L1020.5,1105.9 L1020.8,1105.7 L1021.2,1107.6 L1021.5,1105.2 L1021.9,1107.2 L1022.2,1104.7 L1022.6,1106.6 L1022.9,1106.2 L1023.3,1106.7 L1023.6,1105.8 L1024.0,1104.7 L1024.3,1105.1" fill="none" stroke="#000" stroke-width="2.6" stroke-linejoin="round"/>
<line x1="681.4" y1="1302.6" x2="1063.3" y2="1302.6" stroke="#000" stroke-width="2.5" stroke-linecap="butt"/>
<line x1="682.7" y1="1302.6" x2="682.7" y2="1313.6" stroke="#000" stroke-width="2.5" stroke-linecap="butt"/>
<text x="682.7" y="1335.7" font-size="18.5" text-anchor="middle">0</text>
<line x1="758.2" y1="1302.6" x2="758.2" y2="1313.6" stroke="#000" stroke-width="2.5" stroke-linecap="butt"/>
<text x="758.2" y="1335.7" font-size="18.5" text-anchor="middle">50</text>
<line x1="834.6" y1="1302.6" x2="834.6" y2="1313.6" stroke="#000" stroke-width="2.5" stroke-linecap="butt"/>
<text x="834.6" y="1335.7" font-size="18.5" text-anchor="middle">100</text>
<line x1="910.7" y1="1302.6" x2="910.7" y2="1313.6" stroke="#000" stroke-width="2.5" stroke-linecap="butt"/>
<text x="910.7" y="1335.7" font-size="18.5" text-anchor="middle">150</text>
<line x1="986.9" y1="1302.6" x2="986.9" y2="1313.6" stroke="#000" stroke-width="2.5" stroke-linecap="butt"/>
<text x="986.9" y="1335.7" font-size="18.5" text-anchor="middle">200</text>
<line x1="1062.6" y1="1302.6" x2="1062.6" y2="1313.6" stroke="#000" stroke-width="2.5" stroke-linecap="butt"/>
<text x="1062.6" y="1335.7" font-size="18.5" text-anchor="middle">250</text>
<text x="874.0" y="1378.5" font-size="41.8" text-anchor="middle">Time (s)</text>
<line x1="895.0" y1="1044.9" x2="922.5" y2="1044.9" stroke="#000" stroke-width="3.2" stroke-linecap="round"/>
<text transform="translate(937.2,1056.2) scale(0.961,1)" font-size="33">wt-HRG</text>
<line x1="896.0" y1="1083.9" x2="923.5" y2="1083.9" stroke="#008000" stroke-width="3.2" stroke-linecap="round"/>
<text transform="translate(937.6,1095.9) scale(0.965,1)" font-size="33">gof-HRG</text>
<text x="1065.0" y="973.9" font-size="58" font-weight="bold">h</text>
<text transform="translate(1124.9,1181.6) rotate(-90)" font-size="40.6" text-anchor="middle">Platelets AUC</text>
<text transform="translate(1173.3,1182.5) rotate(-90)" font-size="41.4" text-anchor="middle">(arb. units)</text>
<line x1="1225.0" y1="1057.5" x2="1225.0" y2="1305.7" stroke="#000" stroke-width="2.5" stroke-linecap="butt"/>
<line x1="1213.5" y1="1057.5" x2="1225.0" y2="1057.5" stroke="#000" stroke-width="2.5" stroke-linecap="butt"/>
<line x1="1213.5" y1="1119.4" x2="1225.0" y2="1119.4" stroke="#000" stroke-width="2.5" stroke-linecap="butt"/>
<line x1="1213.5" y1="1181.3" x2="1225.0" y2="1181.3" stroke="#000" stroke-width="2.5" stroke-linecap="butt"/>
<line x1="1213.5" y1="1242.5" x2="1225.0" y2="1242.5" stroke="#000" stroke-width="2.5" stroke-linecap="butt"/>
<line x1="1213.5" y1="1304.4" x2="1225.0" y2="1304.4" stroke="#000" stroke-width="2.5" stroke-linecap="butt"/>
<text x="1211.7" y="1063.8" font-size="17.5" text-anchor="end">10<tspan font-size="10.6" dx="4.6" dy="-5.8">11</tspan></text>
<text x="1211.7" y="1125.7" font-size="17.5" text-anchor="end">10<tspan font-size="10.6" dx="4.6" dy="-5.8">10</tspan></text>
<text x="1211.7" y="1187.6" font-size="17.5" text-anchor="end">10<tspan font-size="10.6" dx="2.4" dy="-5.8">9</tspan></text>
<text x="1211.7" y="1248.8" font-size="17.5" text-anchor="end">10<tspan font-size="10.6" dx="2.4" dy="-5.8">8</tspan></text>
<text x="1211.7" y="1310.7" font-size="17.5" text-anchor="end">10<tspan font-size="10.6" dx="2.4" dy="-5.8">7</tspan></text>
<line x1="1223.8" y1="1304.4" x2="1555.0" y2="1304.4" stroke="#000" stroke-width="2.5" stroke-linecap="butt"/>
<line x1="1317.8" y1="1304.4" x2="1317.8" y2="1315.4" stroke="#000" stroke-width="2.5" stroke-linecap="butt"/>
<line x1="1458.0" y1="1304.4" x2="1458.0" y2="1315.4" stroke="#000" stroke-width="2.5" stroke-linecap="butt"/>
<path d="M1274,1304.4 L1274,1119.2 L1361.5,1119.2 L1361.5,1304.4" fill="none" stroke="#000" stroke-width="3.8" stroke-linejoin="miter"/>
<path d="M1414,1304.4 L1414,1145.5 L1503.2,1145.5 L1503.2,1304.4" fill="none" stroke="#FF0000" stroke-width="3.8" stroke-linejoin="miter"/>
<g fill="#000"><circle cx="1317.7" cy="1076.5" r="5"/><circle cx="1331.8" cy="1073.2" r="5"/><circle cx="1289.9" cy="1098.0" r="5"/><circle cx="1345.7" cy="1097.0" r="5"/><circle cx="1303.8" cy="1105.9" r="5"/><circle cx="1317.7" cy="1101.6" r="5"/><circle cx="1331.8" cy="1103.1" r="5"/><circle cx="1359.8" cy="1108.8" r="5"/><circle cx="1289.9" cy="1110.3" r="5"/><circle cx="1317.7" cy="1114.6" r="5"/><circle cx="1303.8" cy="1116.7" r="5"/><circle cx="1345.7" cy="1116.7" r="5"/><circle cx="1275.8" cy="1119.2" r="5"/><circle cx="1359.8" cy="1120.3" r="5"/><circle cx="1289.9" cy="1123.2" r="5"/><circle cx="1303.8" cy="1128.9" r="5"/><circle cx="1317.7" cy="1126.8" r="5"/><circle cx="1331.8" cy="1127.5" r="5"/><circle cx="1345.7" cy="1127.8" r="5"/><circle cx="1289.9" cy="1133.9" r="5"/><circle cx="1303.8" cy="1144.0" r="5"/><circle cx="1317.7" cy="1140.7" r="5"/><circle cx="1331.8" cy="1140.0" r="5"/><circle cx="1303.8" cy="1155.0" r="5"/><circle cx="1331.8" cy="1154.0" r="5"/><circle cx="1289.9" cy="1163.7" r="5"/><circle cx="1331.8" cy="1164.5" r="5"/><circle cx="1345.7" cy="1163.7" r="5"/><circle cx="1317.7" cy="1173.4" r="5"/><circle cx="1303.8" cy="1182.8" r="5"/><circle cx="1331.8" cy="1181.3" r="5"/><circle cx="1317.7" cy="1187.1" r="5"/><circle cx="1303.8" cy="1214.1" r="5"/><circle cx="1331.8" cy="1210.8" r="5"/></g>
<line x1="1293.6" y1="1113.0" x2="1341.6" y2="1113.0" stroke="#000" stroke-width="3.1" stroke-linecap="round"/>
<line x1="1293.6" y1="1124.0" x2="1341.6" y2="1124.0" stroke="#000" stroke-width="3.1" stroke-linecap="round"/>
<line x1="1317.6" y1="1113.0" x2="1317.6" y2="1124.0" stroke="#000" stroke-width="3.1" stroke-linecap="butt"/>
<g fill="#FF0000"><circle cx="1458.4" cy="1098.0" r="5"/><circle cx="1444.5" cy="1102.4" r="5"/><circle cx="1458.4" cy="1111.7" r="5"/><circle cx="1472.2" cy="1115.3" r="5"/><circle cx="1500.1" cy="1122.5" r="5"/><circle cx="1416.5" cy="1124.9" r="5"/><circle cx="1472.2" cy="1126.0" r="5"/><circle cx="1430.4" cy="1131.4" r="5"/><circle cx="1444.5" cy="1131.8" r="5"/><circle cx="1486.1" cy="1129.9" r="5"/><circle cx="1416.5" cy="1139.7" r="5"/><circle cx="1458.4" cy="1139.7" r="5"/><circle cx="1486.1" cy="1139.7" r="5"/><circle cx="1500.1" cy="1147.6" r="5"/><circle cx="1430.4" cy="1149.3" r="5"/><circle cx="1444.5" cy="1148.3" r="5"/><circle cx="1472.2" cy="1147.9" r="5"/><circle cx="1416.5" cy="1155.0" r="5"/><circle cx="1486.1" cy="1152.2" r="5"/><circle cx="1472.2" cy="1159.8" r="5"/><circle cx="1430.4" cy="1161.2" r="5"/><circle cx="1486.1" cy="1166.5" r="5"/><circle cx="1458.4" cy="1169.8" r="5"/><circle cx="1444.5" cy="1171.3" r="5"/><circle cx="1430.4" cy="1174.1" r="5"/><circle cx="1472.2" cy="1177.7" r="5"/><circle cx="1486.1" cy="1177.4" r="5"/><circle cx="1430.4" cy="1184.2" r="5"/><circle cx="1444.5" cy="1182.8" r="5"/><circle cx="1500.1" cy="1183.8" r="5"/><circle cx="1486.1" cy="1187.8" r="5"/><circle cx="1444.5" cy="1194.7" r="5"/><circle cx="1458.4" cy="1192.4" r="5"/><circle cx="1472.2" cy="1192.4" r="5"/><circle cx="1458.4" cy="1210.8" r="5"/><circle cx="1458.4" cy="1221.8" r="5"/><circle cx="1458.4" cy="1237.6" r="5"/><circle cx="1444.5" cy="1256.0" r="5"/><circle cx="1458.4" cy="1253.1" r="5"/><circle cx="1472.2" cy="1253.8" r="5"/></g>
<line x1="1434.8" y1="1138.8" x2="1483.2" y2="1138.8" stroke="#FF0000" stroke-width="3.1" stroke-linecap="round"/>
<line x1="1434.8" y1="1149.5" x2="1483.2" y2="1149.5" stroke="#FF0000" stroke-width="3.1" stroke-linecap="round"/>
<line x1="1459.0" y1="1138.8" x2="1459.0" y2="1149.5" stroke="#FF0000" stroke-width="3.1" stroke-linecap="butt"/>
<line x1="1324.7" y1="1022.9" x2="1447.8" y2="1022.9" stroke="#000" stroke-width="1.8" stroke-linecap="butt"/>
<line x1="1324.7" y1="1017.6" x2="1324.7" y2="1028.2" stroke="#000" stroke-width="1.8" stroke-linecap="butt"/>
<line x1="1447.8" y1="1017.6" x2="1447.8" y2="1028.2" stroke="#000" stroke-width="1.8" stroke-linecap="butt"/>
<text x="1388.1" y="1011.9" font-size="20.5" text-anchor="middle">0.0011</text>
<text x="1302.2" y="1058.1" font-size="23.5">(34)</text>
<text x="1436.6" y="1064.0" font-size="23.5">(40)</text>
<text transform="translate(1335.3,1339.1) rotate(-45)" font-size="41.8" text-anchor="end">wt-HRG</text>
<text transform="translate(1473.3,1338.9) rotate(-45)" font-size="41.6" text-anchor="end">gof-HRG</text>
<text x="1540.2" y="985.7" font-size="58" font-weight="bold">i</text>
<text transform="translate(1590.0,1162.5) rotate(-90)" font-size="44.8" text-anchor="middle">Fibrin AUC</text>
<text transform="translate(1641.1,1162.0) rotate(-90)" font-size="45.2" text-anchor="middle">(arb. units)</text>
<line x1="1696.6" y1="1047.3" x2="1696.6" y2="1278.2" stroke="#000" stroke-width="2.5" stroke-linecap="butt"/>
<line x1="1685.1" y1="1047.3" x2="1696.6" y2="1047.3" stroke="#000" stroke-width="2.5" stroke-linecap="butt"/>
<line x1="1685.1" y1="1105.5" x2="1696.6" y2="1105.5" stroke="#000" stroke-width="2.5" stroke-linecap="butt"/>
<line x1="1685.1" y1="1162.0" x2="1696.6" y2="1162.0" stroke="#000" stroke-width="2.5" stroke-linecap="butt"/>
<line x1="1685.1" y1="1219.5" x2="1696.6" y2="1219.5" stroke="#000" stroke-width="2.5" stroke-linecap="butt"/>
<line x1="1685.1" y1="1277.0" x2="1696.6" y2="1277.0" stroke="#000" stroke-width="2.5" stroke-linecap="butt"/>
<text x="1685.2" y="1052.8" font-size="15.5" text-anchor="end">10<tspan font-size="10.8" dx="4.3" dy="-4.6">11</tspan></text>
<text x="1685.2" y="1111.0" font-size="15.5" text-anchor="end">10<tspan font-size="10.8" dx="3.9" dy="-4.6">10</tspan></text>
<text x="1685.2" y="1167.5" font-size="15.5" text-anchor="end">10<tspan font-size="10.8" dx="2.6" dy="-4.6">9</tspan></text>
<text x="1685.2" y="1225.0" font-size="15.5" text-anchor="end">10<tspan font-size="10.8" dx="2.6" dy="-4.6">8</tspan></text>
<text x="1685.2" y="1282.5" font-size="15.5" text-anchor="end">10<tspan font-size="10.8" dx="2.6" dy="-4.6">7</tspan></text>
<line x1="1695.3" y1="1277.0" x2="1997.0" y2="1277.0" stroke="#000" stroke-width="2.5" stroke-linecap="butt"/>
<line x1="1781.5" y1="1277.0" x2="1781.5" y2="1287.0" stroke="#000" stroke-width="2.5" stroke-linecap="butt"/>
<line x1="1909.7" y1="1277.0" x2="1909.7" y2="1287.0" stroke="#000" stroke-width="2.5" stroke-linecap="butt"/>
<path d="M1741.6,1277 L1741.6,1120.7 L1823.3,1120.7 L1823.3,1277" fill="none" stroke="#000" stroke-width="3.4" stroke-linejoin="miter"/>
<path d="M1868.8,1277 L1868.8,1148.3 L1950.3,1148.3 L1950.3,1277" fill="none" stroke="#008000" stroke-width="3.4" stroke-linejoin="miter"/>
<g fill="#000"><circle cx="1772.8" cy="1090.6" r="4.7"/><circle cx="1782.3" cy="1094.7" r="4.7"/><circle cx="1791.8" cy="1097.6" r="4.7"/><circle cx="1763.3" cy="1099.3" r="4.7"/><circle cx="1753.6" cy="1102.8" r="4.7"/><circle cx="1772.8" cy="1103.9" r="4.7"/><circle cx="1810.5" cy="1104.4" r="4.7"/><circle cx="1791.8" cy="1108.4" r="4.7"/><circle cx="1763.3" cy="1112.2" r="4.7"/><circle cx="1772.8" cy="1113.3" r="4.7"/><circle cx="1820.3" cy="1113.1" r="4.7"/><circle cx="1744.0" cy="1116.2" r="4.7"/><circle cx="1782.3" cy="1115.1" r="4.7"/><circle cx="1791.8" cy="1118.8" r="4.7"/><circle cx="1801.3" cy="1118.8" r="4.7"/><circle cx="1810.5" cy="1115.1" r="4.7"/><circle cx="1763.3" cy="1122.0" r="4.7"/><circle cx="1772.8" cy="1123.1" r="4.7"/><circle cx="1801.3" cy="1130.0" r="4.7"/><circle cx="1744.0" cy="1136.3" r="4.7"/><circle cx="1753.6" cy="1136.6" r="4.7"/><circle cx="1810.5" cy="1136.0" r="4.7"/><circle cx="1820.3" cy="1136.9" r="4.7"/><circle cx="1763.3" cy="1141.5" r="4.7"/><circle cx="1772.8" cy="1140.7" r="4.7"/><circle cx="1782.3" cy="1140.6" r="4.7"/><circle cx="1791.8" cy="1139.6" r="4.7"/><circle cx="1801.3" cy="1141.5" r="4.7"/><circle cx="1782.3" cy="1151.9" r="4.7"/><circle cx="1791.8" cy="1149.0" r="4.7"/><circle cx="1801.3" cy="1153.9" r="4.7"/><circle cx="1772.8" cy="1156.5" r="4.7"/><circle cx="1791.8" cy="1160.8" r="4.7"/><circle cx="1772.8" cy="1167.2" r="4.7"/></g>
<line x1="1760.0" y1="1114.5" x2="1804.0" y2="1114.5" stroke="#000" stroke-width="3" stroke-linecap="round"/>
<line x1="1760.0" y1="1127.0" x2="1804.0" y2="1127.0" stroke="#000" stroke-width="3" stroke-linecap="round"/>
<line x1="1782.0" y1="1114.5" x2="1782.0" y2="1127.0" stroke="#000" stroke-width="3" stroke-linecap="butt"/>
<g fill="#008000"><circle cx="1905.4" cy="1117.7" r="4.7"/><circle cx="1888.5" cy="1121.2" r="4.7"/><circle cx="1871.7" cy="1125.4" r="4.7"/><circle cx="1947.9" cy="1125.8" r="4.7"/><circle cx="1897.0" cy="1126.6" r="4.7"/><circle cx="1905.4" cy="1128.3" r="4.7"/><circle cx="1913.8" cy="1126.6" r="4.7"/><circle cx="1880.1" cy="1131.2" r="4.7"/><circle cx="1888.5" cy="1134.3" r="4.7"/><circle cx="1922.3" cy="1133.1" r="4.7"/><circle cx="1930.7" cy="1132.3" r="4.7"/><circle cx="1939.1" cy="1132.3" r="4.7"/><circle cx="1897.0" cy="1139.8" r="4.7"/><circle cx="1905.4" cy="1139.8" r="4.7"/><circle cx="1913.8" cy="1139.2" r="4.7"/><circle cx="1922.3" cy="1143.0" r="4.7"/><circle cx="1888.5" cy="1151.1" r="4.7"/><circle cx="1897.0" cy="1153.6" r="4.7"/><circle cx="1905.4" cy="1153.6" r="4.7"/><circle cx="1913.8" cy="1153.6" r="4.7"/><circle cx="1922.3" cy="1153.6" r="4.7"/><circle cx="1888.5" cy="1161.1" r="4.7"/><circle cx="1897.0" cy="1163.7" r="4.7"/><circle cx="1905.4" cy="1163.9" r="4.7"/><circle cx="1913.8" cy="1164.9" r="4.7"/><circle cx="1930.7" cy="1161.9" r="4.7"/><circle cx="1922.3" cy="1169.7" r="4.7"/><circle cx="1905.4" cy="1172.9" r="4.7"/><circle cx="1913.8" cy="1176.4" r="4.7"/><circle cx="1888.5" cy="1175.7" r="4.7"/><circle cx="1930.7" cy="1180.6" r="4.7"/><circle cx="1897.0" cy="1182.6" r="4.7"/><circle cx="1905.4" cy="1183.5" r="4.7"/><circle cx="1913.8" cy="1188.1" r="4.7"/><circle cx="1922.3" cy="1187.8" r="4.7"/><circle cx="1905.4" cy="1194.8" r="4.7"/><circle cx="1897.0" cy="1207.1" r="4.7"/><circle cx="1922.3" cy="1212.0" r="4.7"/><circle cx="1897.0" cy="1217.4" r="4.7"/><circle cx="1913.8" cy="1217.4" r="4.7"/></g>
<line x1="1887.7" y1="1143.2" x2="1931.7" y2="1143.2" stroke="#008000" stroke-width="3" stroke-linecap="round"/>
<line x1="1887.7" y1="1150.0" x2="1931.7" y2="1150.0" stroke="#008000" stroke-width="3" stroke-linecap="round"/>
<line x1="1909.7" y1="1143.2" x2="1909.7" y2="1150.0" stroke="#008000" stroke-width="3" stroke-linecap="butt"/>
<line x1="1784.0" y1="1042.9" x2="1904.2" y2="1042.9" stroke="#000" stroke-width="1.8" stroke-linecap="butt"/>
<line x1="1784.0" y1="1037.6" x2="1784.0" y2="1048.2" stroke="#000" stroke-width="1.8" stroke-linecap="butt"/>
<line x1="1904.2" y1="1037.6" x2="1904.2" y2="1048.2" stroke="#000" stroke-width="1.8" stroke-linecap="butt"/>
<text x="1844.6" y="1033.1" font-size="20" text-anchor="middle">0.0001</text>
<text x="1765.5" y="1076.0" font-size="23">(34)</text>
<text x="1884.4" y="1076.0" font-size="23">(40)</text>
<text transform="translate(1796.4,1310.8) rotate(-45)" font-size="38.4" text-anchor="end">wt-HRG</text>
<text transform="translate(1923.7,1310.2) rotate(-45)" font-size="38.4" text-anchor="end">gof-HRG</text>
</svg>
</body></html>
